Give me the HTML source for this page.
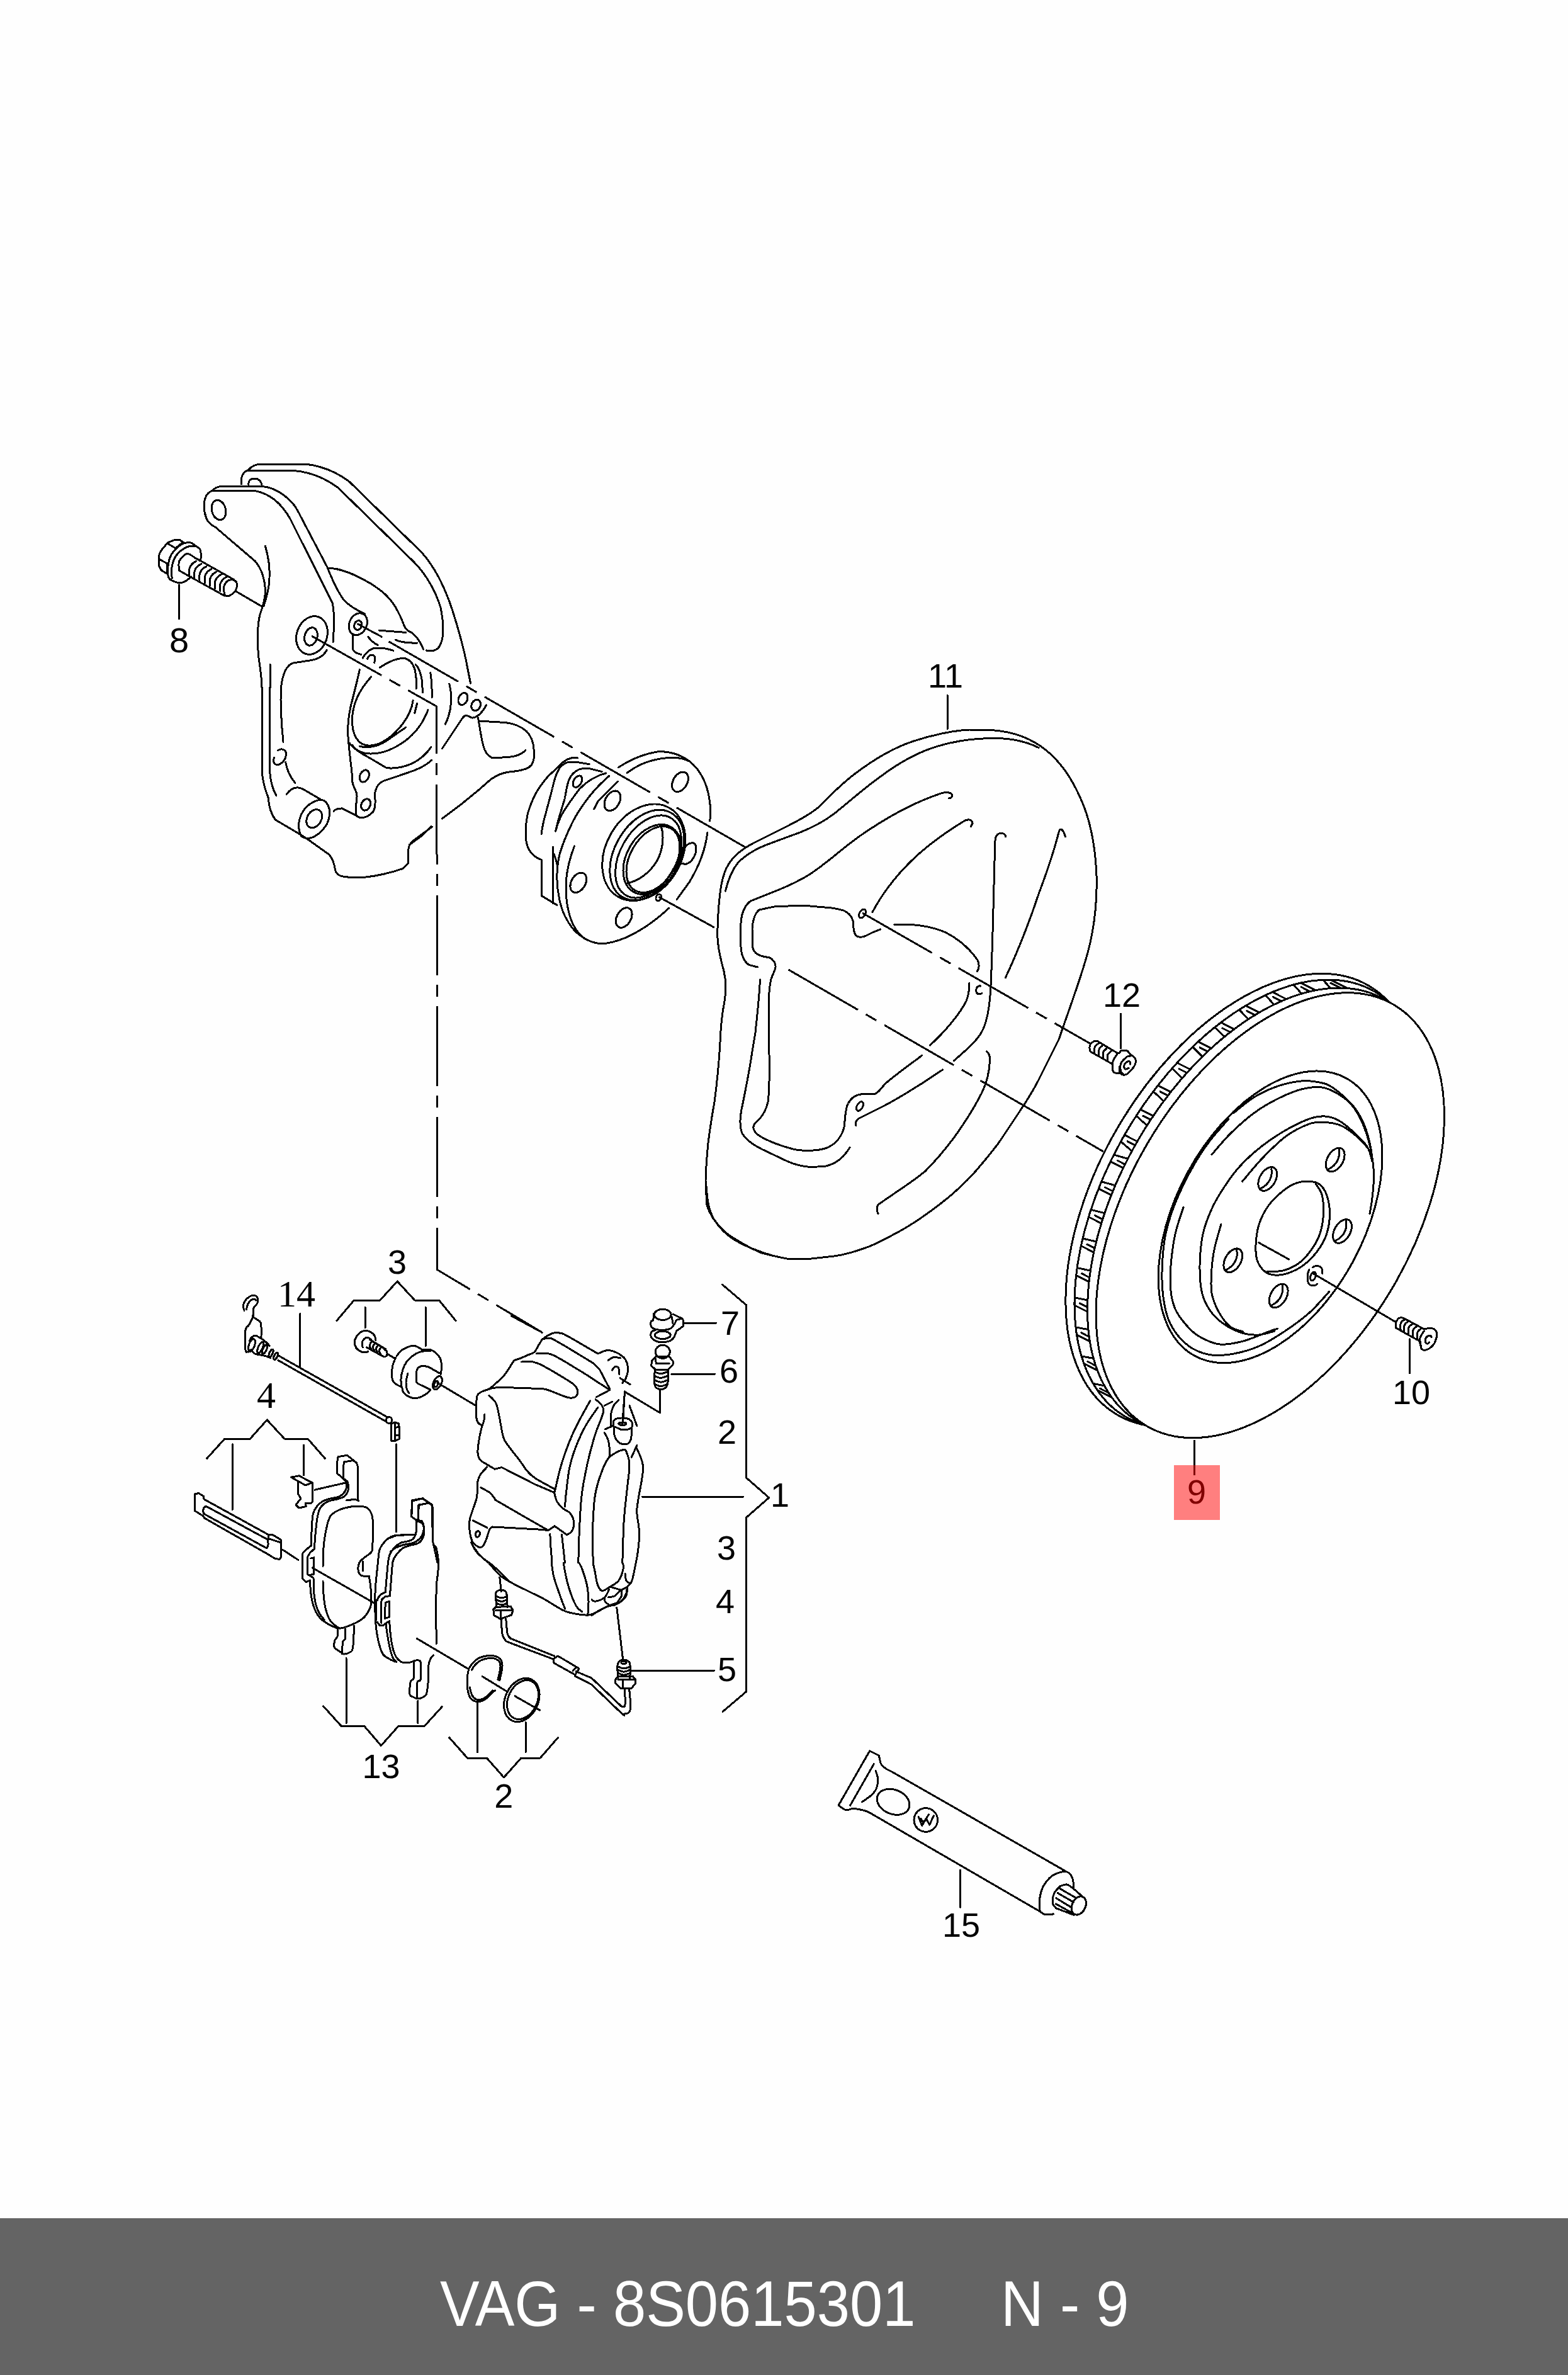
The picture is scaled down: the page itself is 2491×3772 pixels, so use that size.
<!DOCTYPE html>
<html><head><meta charset="utf-8"><style>
html,body{margin:0;padding:0;background:#fefefe;}
body{width:2491px;height:3772px;position:relative;overflow:hidden;font-family:"Liberation Sans",sans-serif;}
#bar{position:absolute;left:0;top:3523px;width:2491px;height:249px;background:#646464;}
.bt{position:absolute;transform:scaleX(0.921);transform-origin:0 0;color:#fff;font-size:102px;line-height:1;white-space:pre;font-family:"Liberation Sans",sans-serif;}
svg{position:absolute;left:0;top:0;}
.ln{fill:none;stroke:#000;stroke-width:3;stroke-linejoin:round;stroke-linecap:round;shape-rendering:crispEdges;}
.lbl{font-family:"Liberation Sans",sans-serif;font-size:52px;fill:#000;}
</style></head><body>
<div id="bar"></div>
<div class="bt" id="t1" style="left:699px;top:3608px;">VAG - 8S0615301</div>
<div class="bt" id="t2" style="left:1590px;top:3608px;">N - 9</div>
<svg width="2491" height="3523" viewBox="0 0 2491 3523">
<path class="ln" style="stroke-linecap:butt;stroke-dasharray:127.5 14.5 19.5 14.5" d="M 495.0,1010.0 L 693.8,1122.0 L 694.6,2016.6 L 861.0,2116.0"/>
<path class="ln" d="M 568.8,991.2 L 606.2,1011.2"/>
<path class="ln" style="stroke-linecap:butt;stroke-dasharray:127.5 14.5 19.5 14.5" d="M 617.5,1018.8 L 1185.0,1346.2"/>
<path class="ln" d="M 1047.5,1425.0 L 1133.8,1472.5"/>
<path class="ln" style="stroke-linecap:butt;stroke-dasharray:127.5 14.5 19.5 14.5" d="M 1252.5,1540.0 L 1753.0,1829.0"/>
<path class="ln" style="stroke-linecap:butt;stroke-dasharray:127.5 14.5 19.5 14.5" d="M 1370.0,1450.0 L 1733.0,1658.0"/>
<path class="ln" d="M 252.2,888.0 C 252.4,886.6 252.4,882.3 253.3,879.8 C 254.1,877.2 255.1,875.6 257.3,872.7 C 259.6,869.7 265.0,863.7 266.5,861.9"/>
<path class="ln" d="M 266.5,861.9 L 273.7,858.9 L 277.8,857.3 L 285.4,857.3 L 289.0,859.9 L 292.0,861.9"/>
<path class="ln" d="M 252.2,888.0 C 252.2,889.5 251.9,894.8 252.2,897.1 C 252.6,899.5 253.4,900.7 254.3,902.2 C 255.1,903.8 255.6,905.0 257.3,906.3 C 259.0,907.7 262.9,909.6 264.5,910.4 C 266.1,911.3 266.4,911.3 266.7,911.4"/>
<path class="ln" d="M 254.3,888.8 L 265.7,895.1 L 265.0,907.9"/>
<path class="ln" d="M 267.0,863.7 L 278.8,870.6 L 289.0,862.7"/>
<path class="ln" d="M 266.7,911.4 C 266.7,909.7 266.4,904.8 266.7,901.2 C 267.0,897.7 267.7,893.4 268.6,890.0 C 269.5,886.6 270.7,883.5 272.1,880.8 C 273.6,878.2 275.3,876.4 277.2,874.2 C 279.2,872.0 281.4,869.5 283.9,867.6 C 286.3,865.6 290.7,863.5 292.0,862.7"/>
<path class="ln" d="M 266.7,911.4 C 266.9,912.3 266.9,915.0 267.6,916.5 C 268.2,918.1 269.3,919.5 270.6,920.6 C 272.0,921.7 274.0,922.4 275.7,923.2 C 277.4,923.9 279.1,924.5 280.8,924.9 C 282.5,925.3 284.2,925.7 285.9,925.7 C 287.6,925.7 289.3,925.3 291.0,924.7 C 292.7,924.1 294.4,923.2 296.1,922.1 C 297.8,921.0 300.0,919.1 301.2,918.1 C 302.4,917.0 303.1,916.1 303.5,915.7"/>
<path class="ln" d="M 292.0,862.7 C 293.7,862.5 299.2,861.0 302.2,861.6 C 305.3,862.3 307.9,865.0 310.4,866.7 C 313.0,868.5 316.1,870.1 317.6,872.1 C 319.0,874.1 318.8,876.3 319.1,878.8 C 319.3,881.2 319.5,885.1 319.1,886.9 C 318.7,888.8 317.1,889.5 316.7,890.0"/>
<path class="ln" d="M 273.2,918.6 C 273.1,916.4 272.5,909.2 272.7,905.3 C 272.8,901.4 273.2,898.5 274.2,895.1 C 275.1,891.7 276.6,887.8 278.3,884.9 C 279.9,882.0 281.9,879.8 283.9,877.8 C 285.8,875.7 287.8,874.1 290.0,872.7 C 292.2,871.2 294.9,869.7 297.1,868.8 C 299.4,867.9 301.1,867.4 303.3,867.1 C 305.5,866.9 309.2,867.1 310.4,867.1"/>
<path class="ln" d="M 284.9,906.3 C 284.7,904.8 283.9,899.7 283.9,897.1 C 283.9,894.6 284.0,893.0 284.9,891.0 C 285.7,889.1 287.4,887.1 289.0,885.4 C 290.5,883.7 292.3,881.5 294.1,880.6 C 295.9,879.7 297.8,879.4 299.7,879.8 C 301.6,880.2 303.4,881.6 305.3,882.9 C 307.3,884.1 310.4,886.4 311.4,887.1"/>
<path class="ln" d="M 284.9,906.3 L 301.2,915.5"/>
<path class="ln" d="M 311.4,887.1 L 318.6,890.7 L 371.6,920.6"/>
<path class="ln" d="M 301.2,915.5 L 356.3,946.1"/>
<path class="ln" d="M 357.3,945.6 C 357.0,943.8 355.3,937.9 355.3,934.9 C 355.3,931.9 356.2,929.9 357.3,927.8 C 358.5,925.6 360.2,923.2 362.4,922.1 C 364.7,921.0 368.4,920.6 370.6,921.1 C 372.9,921.6 375.0,923.3 375.9,925.2 C 376.9,927.1 376.7,930.1 376.3,932.3 C 376.0,934.6 375.0,936.6 373.7,938.5 C 372.4,940.3 370.3,942.2 368.6,943.6 C 366.9,944.9 365.1,946.1 363.5,946.6 C 361.9,947.1 359.6,946.6 358.9,946.6"/>
<path class="ln" d="M 373.7,938.5 L 415.0,962.6"/>
<path class="ln" d="M 284.4,928.8 L 284.4,982.4"/>
<path class="ln" d="M 311.4,891.5 C 310.4,892.2 307.0,893.7 305.3,895.6 C 303.6,897.5 301.8,899.7 301.0,902.8 C 300.3,905.8 300.8,912.1 300.7,914.0"/>
<path class="ln" d="M 319.6,895.6 C 318.6,896.3 315.2,897.8 313.5,899.7 C 311.7,901.6 309.9,903.8 309.2,906.8 C 308.4,909.9 308.9,916.2 308.9,918.1"/>
<path class="ln" d="M 327.8,899.7 C 326.7,900.4 323.4,901.9 321.6,903.8 C 319.9,905.6 318.1,907.9 317.3,910.9 C 316.6,914.0 317.1,920.3 317.0,922.1"/>
<path class="ln" d="M 335.9,903.8 C 334.9,904.5 331.5,906.0 329.8,907.9 C 328.1,909.7 326.3,911.9 325.5,915.0 C 324.7,918.1 325.3,924.4 325.2,926.2"/>
<path class="ln" d="M 344.1,907.9 C 343.1,908.5 339.7,910.1 338.0,911.9 C 336.2,913.8 334.4,916.0 333.7,919.1 C 332.9,922.1 333.4,928.4 333.4,930.3"/>
<path class="ln" d="M 352.2,911.9 C 351.2,912.6 347.9,914.1 346.1,916.0 C 344.4,917.9 342.6,920.1 341.8,923.2 C 341.1,926.2 341.6,932.5 341.5,934.4"/>
<path class="ln" d="M 360.4,916.0 C 359.4,916.7 356.0,918.2 354.3,920.1 C 352.6,922.0 350.8,924.2 350.0,927.2 C 349.2,930.3 349.7,936.6 349.7,938.5"/>
<path class="ln" d="M 383.5,769.0 C 382.0,756.0 386.0,750.0 395.0,746.0 C 400.0,740.0 406.0,737.5 414.0,737.0 L 485.0,737.0 C 512.5,740.0 535.0,750.0 555.0,765.0 L 670.0,877.5 C 692.5,902.5 707.5,935.0 719.0,970.0 C 730.0,1005.0 739.0,1040.0 742.5,1060.0 L 747.5,1085.0"/>
<path class="ln" d="M 392.5,747.5 L 467.5,747.5 C 495.0,750.0 517.5,760.0 537.5,775.0 L 657.5,892.5 C 677.5,912.5 692.5,940.0 700.0,965.0 C 705.0,990.0 706.0,1015.0 697.5,1027.5 C 692.5,1034.0 684.0,1035.0 677.5,1033.0"/>
<path class="ln" d="M 395.0,770.0 C 394.0,762.5 399.0,760.0 405.0,760.0 C 410.0,760.0 415.0,764.0 416.0,770.0"/>
<path class="ln" d="M 327.5,822.5 C 322.5,807.5 323.0,792.5 330.0,784.0 C 332.5,781.5 334.0,780.5 336.0,780.0 C 340.0,776.0 345.0,773.0 351.0,772.5 L 417.5,772.5 C 437.5,775.0 455.0,787.5 467.5,802.5 C 471.0,807.5 474.0,813.0 477.0,819.0 L 520.0,901.0 C 527.5,920.0 536.0,939.0 546.0,952.5 C 555.0,962.5 565.0,968.5 580.0,975.0"/>
<path class="ln" d="M 336.0,780.0 L 405.0,779.5 C 429.0,784.0 447.5,800.0 461.0,824.0 L 528.0,957.5 C 531.0,970.0 531.0,995.0 529.0,1020.0"/>
<ellipse class="ln" cx="347.5" cy="810.0" rx="11.0" ry="16.0" transform="rotate(-15 347.5 810.0)"/>
<path class="ln" d="M 327.5,822.5 C 330.0,829.0 336.0,834.0 342.5,837.5 L 405.0,891.0 C 415.0,902.5 421.0,920.0 421.5,940.0 C 421.0,955.0 416.0,967.5 412.5,977.5 C 409.0,995.0 408.5,1020.0 411.0,1045.0 C 414.0,1065.0 416.0,1080.0 416.0,1092.0"/>
<path class="ln" d="M 421.5,867.5 C 426.0,882.5 429.0,900.0 428.0,920.0 C 427.0,937.5 422.5,952.5 419.0,962.5"/>
<path class="ln" d="M 429.0,1055.0 C 430.0,1070.0 430.0,1080.0 429.5,1092.0"/>
<ellipse class="ln" cx="495.5" cy="1009.0" rx="24.0" ry="31.0" transform="rotate(20 495.5 1009.0)"/>
<ellipse class="ln" cx="494.0" cy="1011.0" rx="10.0" ry="14.5" transform="rotate(15 494.0 1011.0)"/>
<path class="ln" d="M 519.0,1032.5 C 512.5,1045.0 500.0,1048.5 485.0,1050.0 L 466.0,1053.0 C 455.0,1056.0 449.0,1070.0 446.5,1092.0"/>
<path class="ln" d="M 522.5,902.5 C 540.0,902.5 560.0,910.0 590.0,927.5 C 605.0,937.5 614.0,945.0 617.5,950.0"/>
<path class="ln" d="M 617.5,950.0 C 627.5,960.0 637.5,980.0 642.5,995.0 C 645.0,1000.0 648.8,1002.5 652.5,1003.8 C 660.0,1008.8 667.5,1017.5 672.5,1031.2"/>
<path class="ln" d="M 602.5,1001.2 L 645.0,1004.5"/>
<path class="ln" d="M 585.0,1011.2 C 588.8,1017.5 593.8,1021.2 600.0,1024.5"/>
<path class="ln" d="M 628.8,1016.2 C 635.0,1019.5 645.0,1021.2 662.5,1021.2"/>
<path class="ln" d="M 576.2,1045.0 C 580.0,1038.8 585.5,1032.5 592.5,1030.0 C 600.0,1028.0 612.5,1029.5 625.0,1033.2"/>
<path class="ln" d="M 583.8,1046.2 C 585.0,1041.2 588.8,1039.5 592.5,1040.5 C 596.2,1042.0 597.0,1047.5 594.5,1052.5"/>
<path class="ln" d="M 603.8,1060.0 C 615.0,1052.5 630.0,1045.0 642.5,1045.5 C 650.0,1047.0 655.5,1052.5 658.8,1062.5 C 661.2,1072.5 662.0,1082.5 661.2,1093.8"/>
<path class="ln" d="M 660.0,1055.0 C 665.0,1060.0 668.8,1070.0 670.8,1082.5 L 671.2,1100.0"/>
<path class="ln" d="M 589.5,1075.0 C 573.8,1092.5 560.0,1115.0 559.5,1142.5 C 559.0,1167.5 568.8,1183.8 586.2,1184.2 C 605.0,1184.5 625.0,1168.8 639.5,1150.0 C 648.8,1137.5 654.5,1125.0 656.2,1112.5"/>
<path class="ln" d="M 571.2,1185.0 C 585.0,1189.5 603.8,1185.0 618.8,1173.2 L 645.0,1155.0"/>
<path class="ln" d="M 662.5,1117.5 L 658.8,1132.5"/>
<path class="ln" d="M 680.0,1127.5 C 672.5,1147.5 660.0,1165.0 642.5,1177.5 C 625.0,1190.0 605.0,1197.5 587.5,1197.0 C 575.0,1196.5 565.0,1191.2 560.0,1183.8"/>
<path class="ln" d="M 571.2,1063.8 C 567.5,1082.5 561.2,1105.0 557.0,1122.5 C 553.8,1137.5 552.0,1155.0 553.0,1170.0 C 554.0,1185.0 557.0,1210.0 558.8,1225.0 L 560.0,1242.5 C 561.2,1250.0 565.5,1255.0 566.8,1261.2 C 568.0,1268.8 565.0,1277.5 565.0,1285.0 L 565.0,1292.0 C 566.2,1296.2 568.8,1298.2 572.5,1298.8 C 580.0,1299.0 587.5,1295.0 592.5,1289.5 C 595.5,1285.0 596.5,1275.0 595.8,1267.0 C 595.0,1262.5 595.5,1256.2 598.8,1250.0 C 601.2,1245.0 605.0,1242.0 610.0,1240.0 L 632.5,1232.5 L 657.5,1223.8 C 667.5,1220.0 677.5,1215.0 685.5,1207.5"/>
<path class="ln" d="M 555.0,1180.0 C 562.5,1190.0 575.0,1197.5 585.0,1202.5 L 613.8,1219.5 C 625.0,1221.2 640.0,1218.8 655.0,1212.5 C 667.5,1206.2 677.5,1197.5 685.0,1186.2"/>
<path class="ln" d="M 683.8,1068.8 C 685.5,1077.5 686.2,1090.0 686.2,1107.5"/>
<path class="ln" d="M 713.8,1086.2 C 717.5,1100.0 717.5,1115.0 715.0,1127.5 C 713.0,1137.5 710.0,1145.0 707.5,1150.0"/>
<ellipse class="ln" cx="578.8" cy="1232.5" rx="7.0" ry="10.0" transform="rotate(25 578.8 1232.5)"/>
<ellipse class="ln" cx="581.2" cy="1278.0" rx="7.0" ry="9.5" transform="rotate(25 581.2 1278.0)"/>
<path class="ln" d="M 530.0,1288.2 C 533.8,1284.5 538.8,1283.8 543.8,1284.0 L 570.0,1297.5"/>
<ellipse class="ln" cx="735.5" cy="1110.0" rx="7.0" ry="10.0" transform="rotate(25 735.5 1110.0)"/>
<ellipse class="ln" cx="756.2" cy="1120.0" rx="7.0" ry="9.0" transform="rotate(25 756.2 1120.0)"/>
<path class="ln" d="M 702.5,1188.8 L 735.0,1140.0 C 737.0,1137.5 739.5,1136.2 741.2,1136.2 L 750.0,1140.0 C 753.8,1140.5 757.5,1138.0 761.2,1135.0 C 766.2,1130.5 770.0,1125.0 772.5,1120.0"/>
<path class="ln" d="M 759.5,1140.0 C 762.5,1157.5 765.0,1175.0 768.0,1185.0 C 770.0,1193.8 775.0,1200.0 782.0,1203.8 L 807.5,1202.5 C 820.0,1201.2 830.0,1197.5 835.0,1191.2"/>
<path class="ln" d="M 760.5,1145.0 L 802.5,1147.5 C 815.0,1148.8 827.5,1153.8 836.2,1161.2 C 843.8,1168.8 847.5,1180.0 848.0,1190.0 L 848.0,1205.0 C 847.0,1212.5 842.5,1218.8 835.0,1221.2 C 827.5,1223.8 820.0,1225.0 807.5,1226.2 C 797.5,1227.5 787.5,1232.5 780.0,1237.5 L 760.0,1255.0 L 732.5,1277.5 L 702.5,1300.0"/>
<path class="ln" d="M 650.0,1342.0 L 670.0,1327.5 L 685.0,1312.5"/>
<ellipse class="ln" cx="568.8" cy="991.2" rx="13.8" ry="18.0" transform="rotate(25 568.8 991.2)"/>
<ellipse class="ln" cx="568.8" cy="993.0" rx="6.0" ry="7.5" transform="rotate(20 568.8 993.0)"/>
<path class="ln" d="M 560.0,1008.8 L 560.0,1030.0 C 561.2,1035.0 565.0,1037.5 573.8,1039.5"/>
<path class="ln" d="M 416.2,1092.0 L 416.2,1227.0 C 417.5,1242.0 421.2,1254.5 426.2,1267.0 C 427.5,1279.5 428.8,1289.5 437.5,1302.0 L 480.0,1327.0 L 487.5,1332.0 L 522.5,1357.0 C 527.5,1362.0 531.2,1372.0 532.5,1382.0 C 533.8,1387.0 537.5,1390.8 545.0,1392.0 L 560.0,1394.0 L 580.0,1393.2 C 595.0,1391.5 615.0,1388.2 640.0,1379.5 L 648.8,1370.8 L 648.8,1349.5 C 648.8,1344.5 651.2,1339.5 657.5,1334.5 L 686.2,1313.2"/>
<path class="ln" d="M 428.8,1092.0 L 428.8,1227.0 C 430.0,1242.0 433.8,1254.5 438.8,1263.2"/>
<path class="ln" d="M 446.2,1092.0 C 445.5,1117.0 446.2,1142.0 450.0,1178.2"/>
<path class="ln" d="M 441.2,1192.0 C 446.2,1188.2 455.0,1189.5 454.5,1198.2 C 454.0,1207.0 446.2,1215.0 440.0,1214.5 C 433.8,1214.0 433.8,1207.0 435.5,1203.2"/>
<path class="ln" d="M 453.8,1210.8 C 456.2,1224.5 461.2,1234.5 468.8,1243.2"/>
<path class="ln" d="M 455.0,1262.0 C 460.0,1254.5 466.2,1250.8 472.5,1250.8 C 476.2,1250.8 478.8,1252.0 481.2,1253.2 L 510.0,1270.0"/>
<path class="ln" d="M 478.8,1328.2 C 473.0,1317.0 473.8,1304.5 478.8,1293.2 C 485.0,1280.8 496.2,1271.5 510.0,1270.2 C 517.0,1270.8 521.2,1277.0 523.0,1284.5 C 525.0,1294.5 522.0,1307.0 515.0,1315.0 C 507.5,1324.0 499.5,1330.8 490.0,1331.5 C 485.0,1331.5 481.2,1330.0 478.8,1328.2"/>
<ellipse class="ln" cx="499.2" cy="1300.2" rx="11.2" ry="15.5" transform="rotate(30 499.2 1300.2)"/>
<path class="ln" d="M 982.5,1218.8 C 1000.0,1207.5 1020.0,1197.5 1045.0,1193.8 C 1060.0,1192.5 1080.0,1197.5 1095.0,1208.8 C 1112.5,1222.5 1123.8,1245.0 1127.5,1272.5 C 1129.5,1287.5 1129.0,1297.5 1127.5,1303.8"/>
<path class="ln" d="M 996.2,1227.5 C 1007.5,1218.8 1020.0,1212.5 1032.5,1208.8 C 1050.0,1203.8 1067.5,1202.0 1082.5,1204.5 L 1095.0,1208.8"/>
<path class="ln" d="M 1123.8,1322.5 C 1121.2,1345.0 1112.5,1372.5 1095.0,1401.2 L 1075.0,1428.8"/>
<path class="ln" d="M 1062.5,1442.5 C 1045.0,1458.8 1020.0,1477.5 995.0,1488.8 C 980.0,1495.0 967.5,1498.8 955.0,1498.8 C 942.5,1498.0 932.5,1493.8 922.5,1486.2"/>
<path class="ln" d="M 967.5,1232.5 C 957.5,1241.2 945.0,1253.8 936.2,1265.0 C 927.5,1276.2 917.5,1290.0 910.0,1305.0 C 902.5,1320.0 893.8,1340.0 888.8,1357.5 C 885.5,1372.5 884.5,1385.0 885.0,1397.5 C 885.5,1417.5 890.0,1440.0 897.5,1455.0 C 905.0,1470.0 912.5,1480.0 922.5,1486.2"/>
<path class="ln" d="M 912.5,1343.8 C 906.2,1360.0 901.2,1377.5 899.5,1397.5 C 898.0,1422.5 901.2,1447.5 910.0,1467.5 C 915.0,1477.5 920.0,1483.8 927.5,1490.0"/>
<path class="ln" d="M 917.5,1203.8 C 912.5,1202.5 906.2,1203.8 900.0,1206.8 C 895.0,1209.5 891.2,1213.0 888.8,1216.2 L 872.5,1231.2 C 866.2,1237.5 855.0,1252.5 850.0,1262.5 C 845.0,1272.5 840.0,1285.0 837.5,1296.2 C 835.5,1307.5 834.5,1320.0 835.5,1331.2 C 836.0,1340.0 838.8,1347.5 842.5,1352.5 C 846.2,1357.5 852.5,1362.5 858.8,1365.0"/>
<path class="ln" d="M 860.0,1365.0 L 860.0,1422.5 L 885.0,1437.5"/>
<path class="ln" d="M 860.0,1325.0 C 861.2,1315.0 863.8,1302.5 867.5,1290.0 L 877.5,1252.5 C 880.0,1240.0 882.5,1230.0 888.8,1220.0 C 892.5,1215.0 897.5,1211.2 905.0,1210.0 L 917.5,1210.5 L 936.2,1213.8"/>
<path class="ln" d="M 882.5,1320.0 C 885.0,1308.8 888.8,1296.2 892.5,1283.8 L 897.5,1267.5 C 899.5,1255.0 901.2,1245.0 903.8,1238.8 C 906.2,1232.5 911.2,1226.2 918.8,1222.5 C 922.5,1220.8 927.5,1220.0 936.2,1220.5 L 956.2,1225.5"/>
<path class="ln" d="M 882.5,1320.0 C 886.2,1307.5 891.2,1295.0 896.2,1287.5 C 902.5,1277.5 912.5,1263.8 920.0,1253.8 C 927.5,1246.2 935.0,1240.0 942.5,1236.2 C 948.8,1232.5 956.2,1229.5 962.5,1228.0"/>
<ellipse class="ln" cx="917.5" cy="1241.2" rx="6.2" ry="10.0" transform="rotate(30 917.5 1241.2)"/>
<ellipse class="ln" cx="973.0" cy="1271.8" rx="11.2" ry="17.0" transform="rotate(30 973.0 1271.8)"/>
<path class="ln" d="M 981.2,1241.2 L 965.0,1257.5 L 950.0,1272.5 L 943.8,1285.0"/>
<path class="ln" d="M 878.8,1345.0 L 878.8,1435.0"/>
<path class="ln" d="M 880.0,1356.2 C 882.5,1362.5 884.5,1370.0 885.5,1375.0"/>
<ellipse class="ln" cx="1080.5" cy="1241.8" rx="11.2" ry="17.0" transform="rotate(30 1080.5 1241.8)"/>
<path class="ln" d="M 1085.0,1352.5 C 1088.8,1342.5 1095.0,1338.0 1101.2,1338.8 C 1106.2,1340.0 1107.0,1347.5 1105.0,1355.0 C 1102.5,1363.8 1096.2,1371.2 1088.8,1372.5 L 1082.5,1371.2"/>
<ellipse class="ln" cx="918.8" cy="1401.8" rx="11.2" ry="17.0" transform="rotate(30 918.8 1401.8)"/>
<ellipse class="ln" cx="991.2" cy="1457.5" rx="11.2" ry="17.0" transform="rotate(30 991.2 1457.5)"/>
<ellipse class="ln" cx="1022.8" cy="1353.8" rx="60.0" ry="81.5" transform="rotate(30 1022.8 1353.8)"/>
<ellipse class="ln" cx="1027.8" cy="1358.0" rx="51.5" ry="77.2" transform="rotate(30 1027.8 1358.0)"/>
<ellipse class="ln" cx="1030.0" cy="1360.5" rx="44.5" ry="71.0" transform="rotate(30 1030.0 1360.5)"/>
<ellipse class="ln" cx="1036.2" cy="1365.0" rx="40.8" ry="59.5" transform="rotate(30 1036.2 1365.0)"/>
<ellipse class="ln" cx="1037.5" cy="1365.0" rx="36.5" ry="56.8" transform="rotate(30 1037.5 1365.0)"/>
<path class="ln" d="M 1050.0,1312.5 C 1055.0,1325.0 1053.8,1345.0 1046.2,1362.5 C 1037.5,1380.0 1020.0,1397.5 997.5,1402.5"/>
<ellipse class="ln" cx="1046.2" cy="1425.5" rx="4.0" ry="5.5" transform="rotate(20 1046.2 1425.5)"/>
<path class="ln" d="M 1505.0,1104.0 L 1505.0,1157.5"/>
<path class="ln" d="M 1540.0,1159.0 L 1580.0,1160.0 C 1610.0,1162.5 1637.5,1172.5 1660.0,1190.0 C 1682.5,1207.5 1702.5,1235.0 1717.5,1270.0 C 1731.0,1300.0 1739.0,1340.0 1741.5,1380.0 C 1744.0,1420.0 1740.0,1470.0 1727.5,1515.0 C 1715.0,1560.0 1697.5,1605.0 1682.5,1650.0 C 1670.0,1675.0 1660.0,1695.0 1650.0,1715.0 C 1640.0,1735.0 1630.0,1750.0 1620.0,1765.0 C 1610.0,1780.0 1600.0,1795.0 1590.0,1810.0 C 1580.0,1825.0 1565.0,1842.5 1550.0,1860.0 C 1530.0,1882.5 1510.0,1900.0 1490.0,1915.0 C 1470.0,1930.0 1450.0,1944.0 1430.0,1955.0 C 1410.0,1966.0 1395.0,1974.0 1380.0,1980.0 C 1360.0,1987.5 1345.0,1992.5 1325.0,1995.0 L 1280.0,2000.0 L 1250.0,1999.0 C 1235.0,1996.0 1222.5,1993.5 1210.0,1990.0 C 1197.5,1985.0 1190.0,1981.0 1180.0,1975.0 C 1167.5,1967.5 1157.5,1962.5 1150.0,1955.0 C 1142.5,1947.5 1135.0,1940.0 1130.0,1930.0 C 1125.0,1921.0 1122.5,1915.0 1122.5,1910.0 L 1121.0,1875.0 C 1121.5,1855.0 1123.0,1835.0 1125.0,1815.0 C 1127.5,1795.0 1131.0,1772.5 1135.0,1750.0 C 1139.0,1720.0 1142.5,1685.0 1144.0,1655.0 C 1145.0,1630.0 1148.0,1605.0 1151.0,1590.0 C 1153.5,1575.0 1153.5,1557.5 1150.0,1542.5 C 1146.5,1527.5 1141.5,1515.0 1140.0,1490.0 C 1139.5,1470.0 1141.5,1430.0 1146.0,1405.0 C 1149.0,1390.0 1152.5,1380.0 1157.5,1372.5 C 1165.0,1360.0 1180.0,1347.5 1200.0,1337.5 L 1250.0,1312.5 C 1270.0,1302.5 1287.5,1292.5 1300.0,1282.5 C 1315.0,1267.5 1335.0,1246.0 1360.0,1227.5 C 1390.0,1205.0 1420.0,1187.5 1450.0,1177.5 C 1480.0,1167.5 1515.0,1160.0 1540.0,1159.0"/>
<path class="ln" d="M 1650.0,1187.5 C 1630.0,1177.5 1605.0,1172.5 1580.0,1172.5 C 1550.0,1172.5 1520.0,1176.0 1490.0,1185.0 C 1460.0,1194.0 1430.0,1210.0 1400.0,1232.5 C 1375.0,1250.0 1350.0,1272.5 1325.0,1292.5 C 1305.0,1307.5 1285.0,1317.5 1260.0,1326.0 L 1225.0,1339.0 C 1205.0,1346.0 1185.0,1357.5 1172.5,1370.0 C 1162.5,1382.5 1156.0,1400.0 1152.5,1415.0"/>
<path class="ln" d="M 1122.5,1885.0 C 1123.0,1905.0 1126.0,1922.5 1134.0,1936.0 C 1142.5,1950.0 1155.0,1962.5 1170.0,1971.0 C 1187.5,1981.0 1207.5,1988.5 1230.0,1995.0"/>
<path class="ln" d="M 1507.5,1268.0 C 1511.0,1267.5 1513.5,1265.0 1512.5,1262.5 C 1511.0,1259.0 1505.0,1257.0 1495.0,1260.0 C 1450.0,1275.0 1410.0,1297.5 1370.0,1325.0 C 1340.0,1345.0 1310.0,1375.0 1280.0,1392.5 C 1260.0,1404.0 1240.0,1412.5 1217.5,1421.0 L 1192.5,1431.0 C 1185.0,1436.0 1179.0,1447.5 1177.5,1460.0 C 1176.0,1475.0 1176.0,1495.0 1177.5,1510.0 C 1179.0,1520.0 1184.0,1529.0 1190.0,1532.5 L 1203.5,1536.0"/>
<path class="ln" d="M 1398.5,1476.0 C 1390.0,1479.0 1382.5,1482.5 1375.0,1486.5 C 1369.0,1489.0 1362.5,1489.0 1359.0,1485.0 C 1355.0,1477.5 1356.0,1470.0 1355.0,1462.5 C 1352.5,1454.0 1347.5,1449.0 1340.0,1446.0 C 1330.0,1443.0 1320.0,1441.5 1310.0,1441.0 L 1275.0,1438.0 L 1230.0,1440.0 L 1206.0,1445.0 C 1200.0,1450.0 1196.0,1460.0 1195.0,1475.0 L 1195.5,1502.5 C 1196.5,1512.5 1202.5,1516.5 1212.5,1519.0 L 1222.5,1521.0 C 1229.0,1524.0 1232.5,1530.0 1232.0,1536.0 C 1231.0,1542.5 1227.5,1547.5 1225.0,1555.0 C 1222.5,1565.0 1221.5,1575.0 1221.5,1590.0 L 1221.5,1650.0 C 1222.5,1690.0 1223.0,1730.0 1220.0,1750.0 C 1217.5,1762.5 1210.0,1775.0 1200.0,1783.5 C 1195.0,1788.5 1196.0,1795.0 1202.5,1801.0 C 1212.5,1809.0 1235.0,1818.5 1260.0,1825.0 C 1275.0,1828.5 1300.0,1828.5 1315.0,1822.5 C 1327.5,1816.5 1337.5,1805.0 1341.0,1790.0 C 1343.0,1775.0 1342.5,1760.0 1347.5,1752.5 C 1352.5,1742.5 1360.0,1738.5 1370.0,1737.5 L 1389.0,1738.0 C 1395.0,1736.0 1400.0,1729.0 1405.0,1722.5 C 1415.0,1712.5 1440.0,1695.0 1465.0,1676.0"/>
<path class="ln" d="M 1477.5,1660.0 C 1500.0,1640.0 1525.0,1610.0 1535.0,1590.0 C 1539.0,1580.0 1540.0,1570.0 1540.0,1561.0"/>
<path class="ln" d="M 1207.5,1556.0 C 1206.0,1587.5 1202.5,1615.0 1200.0,1640.0 L 1195.0,1670.0 C 1190.0,1705.0 1182.5,1740.0 1177.5,1765.0 C 1175.0,1780.0 1175.0,1790.0 1179.0,1800.0 C 1185.0,1810.0 1195.0,1817.5 1210.0,1825.0 L 1250.0,1844.0 C 1260.0,1848.5 1272.5,1852.5 1287.5,1853.5 L 1310.0,1852.5 C 1322.5,1850.0 1332.5,1844.0 1340.0,1836.0 C 1345.0,1830.0 1348.0,1826.0 1350.0,1822.5"/>
<path class="ln" d="M 1386.0,1448.5 C 1400.0,1422.5 1420.0,1395.0 1445.0,1370.0 C 1470.0,1345.0 1500.0,1323.5 1530.0,1305.0 C 1537.5,1300.0 1544.0,1301.0 1545.0,1307.5 L 1542.5,1312.5"/>
<path class="ln" d="M 1597.5,1328.5 C 1597.5,1326.5 1596.0,1324.5 1592.5,1323.5 C 1586.0,1322.5 1581.5,1326.0 1581.0,1335.0 C 1579.0,1390.0 1577.5,1490.0 1574.0,1565.0 C 1572.5,1600.0 1567.5,1627.5 1557.5,1642.5 C 1547.5,1657.5 1531.0,1671.0 1515.0,1685.0"/>
<path class="ln" d="M 1497.5,1699.0 C 1480.0,1711.0 1460.0,1724.0 1440.0,1736.0 C 1425.0,1745.0 1410.0,1754.0 1395.0,1761.0 L 1365.0,1776.0 C 1360.0,1779.0 1358.0,1784.0 1360.0,1788.0"/>
<path class="ln" d="M 1597.5,1552.5 C 1615.0,1515.0 1635.0,1465.0 1650.0,1420.0 C 1665.0,1380.0 1677.5,1340.0 1682.5,1320.0 C 1684.0,1315.0 1689.0,1316.0 1692.5,1329.0"/>
<path class="ln" d="M 1421.0,1468.5 C 1450.0,1466.5 1480.0,1471.0 1502.5,1481.0 C 1525.0,1492.5 1542.5,1510.0 1552.5,1524.0 C 1556.0,1530.0 1556.0,1537.5 1552.5,1542.5"/>
<ellipse class="ln" cx="1370.0" cy="1451.0" rx="4.5" ry="7.5" transform="rotate(30 1370.0 1451.0)"/>
<path class="ln" d="M 1557.5,1566.0 C 1552.5,1565.0 1550.0,1570.0 1551.0,1575.0 C 1552.0,1579.0 1556.0,1580.0 1560.0,1577.5"/>
<ellipse class="ln" cx="1366.0" cy="1757.0" rx="4.5" ry="8.0" transform="rotate(30 1366.0 1757.0)"/>
<path class="ln" d="M 1567.5,1670.0 C 1571.0,1672.5 1573.0,1677.5 1572.5,1685.0 C 1571.5,1705.0 1567.5,1720.0 1560.0,1735.0 C 1550.0,1755.0 1535.0,1780.0 1515.0,1807.5 C 1500.0,1827.5 1485.0,1845.0 1470.0,1860.0 C 1455.0,1872.5 1440.0,1882.5 1420.0,1896.0 L 1396.0,1912.5 C 1392.5,1916.0 1392.5,1922.5 1395.0,1927.5"/>
<ellipse class="ln" cx="1974.6" cy="1906.2" rx="230.0" ry="395.0" transform="rotate(30.44 1974.6 1906.2)"/>
<ellipse class="ln" cx="1986.1" cy="1912.6" rx="391.3" ry="227.9" transform="rotate(-59.559999999999995 1986.1 1912.6)"/>
<ellipse class="ln" cx="2004.3" cy="1922.7" rx="388.1" ry="226.0" transform="rotate(-59.559999999999995 2004.3 1922.7)"/>
<path class="ln" d="M 2114.0,1569.5 L 2101.6,1556.2 Q 2107.7,1556.0 2113.8,1556.1 L 2140.5,1569.6"/>
<path class="ln" d="M 2114.0,1561.2 L 2129.6,1569.1"/>
<path class="ln" d="M 2067.8,1578.2 L 2054.9,1563.9 Q 2060.9,1562.4 2066.7,1561.0 L 2090.1,1572.8"/>
<path class="ln" d="M 2067.3,1567.7 L 2081.1,1574.7"/>
<path class="ln" d="M 2024.0,1595.5 L 2010.4,1580.6 Q 2015.9,1578.0 2021.5,1575.6 L 2043.5,1586.8"/>
<path class="ln" d="M 2022.6,1583.4 L 2035.9,1590.2"/>
<path class="ln" d="M 1983.1,1618.8 L 1968.8,1603.6 Q 1974.0,1600.3 1979.1,1597.2 L 2000.7,1608.1"/>
<path class="ln" d="M 1980.8,1605.7 L 1993.7,1612.2"/>
<path class="ln" d="M 1945.1,1646.8 L 1930.2,1631.3 Q 1935.0,1627.6 1939.7,1623.9 L 1960.9,1634.6"/>
<path class="ln" d="M 1941.9,1632.9 L 1954.6,1639.3"/>
<path class="ln" d="M 1910.1,1678.2 L 1894.6,1662.7 Q 1899.0,1658.6 1903.4,1654.5 L 1924.3,1665.0"/>
<path class="ln" d="M 1906.1,1663.8 L 1918.6,1670.1"/>
<path class="ln" d="M 1878.0,1712.4 L 1862.0,1696.9 Q 1866.0,1692.4 1870.0,1688.0 L 1890.7,1698.4"/>
<path class="ln" d="M 1873.2,1697.6 L 1885.7,1703.9"/>
<path class="ln" d="M 1848.7,1748.9 L 1832.2,1733.5 Q 1835.8,1728.7 1839.5,1723.9 L 1860.0,1734.3"/>
<path class="ln" d="M 1843.2,1733.8 L 1855.5,1740.0"/>
<path class="ln" d="M 1822.1,1787.4 L 1805.1,1772.2 Q 1808.4,1767.2 1811.7,1762.2 L 1832.2,1772.5"/>
<path class="ln" d="M 1815.9,1772.2 L 1828.1,1778.4"/>
<path class="ln" d="M 1798.2,1828.2 L 1780.6,1813.1 Q 1783.5,1807.9 1786.5,1802.6 L 1806.7,1812.9"/>
<path class="ln" d="M 1791.2,1812.8 L 1803.4,1818.9"/>
<path class="ln" d="M 1791.7,1840.4 L 1769.6,1834.0 Q 1766.9,1839.3 1764.2,1844.7 L 1784.5,1855.0"/>
<path class="ln" d="M 1775.1,1843.1 L 1787.4,1849.3"/>
<path class="ln" d="M 1771.8,1882.7 L 1749.8,1876.7 Q 1747.5,1882.3 1745.3,1887.8 L 1765.5,1898.1"/>
<path class="ln" d="M 1755.8,1885.9 L 1768.0,1892.0"/>
<path class="ln" d="M 1754.9,1926.7 L 1733.1,1921.3 Q 1731.3,1927.0 1729.5,1932.7 L 1749.7,1943.0"/>
<path class="ln" d="M 1739.5,1930.4 L 1751.8,1936.6"/>
<path class="ln" d="M 1741.6,1971.9 L 1720.1,1967.0 Q 1718.7,1972.9 1717.4,1978.7 L 1737.7,1989.0"/>
<path class="ln" d="M 1727.0,1976.1 L 1739.2,1982.3"/>
<path class="ln" d="M 1732.3,2018.1 L 1711.2,2013.6 Q 1710.4,2019.6 1709.7,2025.6 L 1730.1,2036.0"/>
<path class="ln" d="M 1718.6,2022.7 L 1730.9,2028.9"/>
<path class="ln" d="M 1727.8,2064.9 L 1707.2,2060.9 Q 1707.0,2067.0 1707.0,2073.0 L 1727.5,2083.3"/>
<path class="ln" d="M 1715.2,2069.9 L 1727.7,2076.2"/>
<path class="ln" d="M 1728.9,2111.6 L 1709.0,2107.9 Q 1709.7,2114.0 1710.6,2119.9 L 1731.5,2130.5"/>
<path class="ln" d="M 1717.8,2116.8 L 1730.3,2123.1"/>
<path class="ln" d="M 1737.2,2157.4 L 1718.2,2154.0 Q 1720.0,2159.8 1721.9,2165.5 L 1743.3,2176.3"/>
<path class="ln" d="M 1727.9,2162.5 L 1740.8,2169.0"/>
<path class="ln" d="M 1754.4,2200.9 L 1736.6,2197.4 Q 1739.8,2202.6 1743.1,2207.7 L 1766.0,2219.2"/>
<path class="ln" d="M 1747.6,2205.2 L 1761.1,2212.1"/>
<ellipse class="ln" style="fill:#fff" cx="2017.8" cy="1930.2" rx="225.9" ry="387.9" transform="rotate(30.44 2017.8 1930.2)"/>
<ellipse class="ln" cx="2018.1" cy="1932.8" rx="149.2" ry="251.2" transform="rotate(28.6 2018.1 1932.8)"/>
<path class="ln" d="M 1952.0,1777.0 C 1947.0,1782.8 1931.0,1800.2 1922.0,1812.0 C 1913.0,1823.8 1905.5,1835.3 1898.0,1848.0 C 1890.5,1860.7 1883.3,1874.3 1877.0,1888.0 C 1870.7,1901.7 1864.5,1916.3 1860.0,1930.0 C 1855.5,1943.7 1852.3,1955.0 1850.0,1970.0 C 1847.7,1985.0 1846.3,2005.0 1846.0,2020.0 C 1845.7,2035.0 1846.3,2047.5 1848.0,2060.0 C 1849.7,2072.5 1852.0,2084.7 1856.0,2095.0 C 1860.0,2105.3 1865.5,2114.2 1872.0,2122.0 C 1878.5,2129.8 1886.2,2137.0 1895.0,2142.0 C 1903.8,2147.0 1914.2,2150.7 1925.0,2152.0 C 1935.8,2153.3 1947.5,2152.3 1960.0,2150.0 C 1972.5,2147.7 1986.7,2143.8 2000.0,2138.0 C 2013.3,2132.2 2026.7,2123.8 2040.0,2115.0 C 2053.3,2106.2 2068.0,2095.7 2080.0,2085.0 C 2092.0,2074.3 2106.7,2056.7 2112.0,2051.0"/>
<path class="ln" d="M 1960.0,1767.5 C 1965.4,1763.3 1980.8,1749.6 1992.5,1742.5 C 2004.2,1735.4 2017.5,1729.2 2030.0,1725.0 C 2042.5,1720.8 2056.7,1718.0 2067.5,1717.0 C 2078.3,1716.0 2086.7,1717.0 2095.0,1718.8 C 2103.3,1720.5 2108.8,1721.5 2117.5,1727.5 C 2126.2,1733.5 2139.6,1745.4 2147.5,1755.0 C 2155.4,1764.6 2160.0,1773.3 2165.0,1785.0 C 2170.0,1796.7 2174.6,1811.7 2177.5,1825.0 C 2180.4,1838.3 2182.1,1852.1 2182.5,1865.0 C 2182.9,1877.9 2181.1,1892.1 2180.0,1902.5 C 2178.9,1912.9 2176.7,1923.3 2176.0,1927.5"/>
<path class="ln" d="M 1925.0,1833.8 C 1930.0,1828.1 1943.8,1811.0 1955.0,1800.0 C 1966.2,1789.0 1980.0,1776.7 1992.5,1767.5 C 2005.0,1758.3 2017.5,1751.2 2030.0,1745.0 C 2042.5,1738.8 2055.8,1733.0 2067.5,1730.0 C 2079.2,1727.0 2090.4,1725.8 2100.0,1727.0 C 2109.6,1728.2 2116.7,1732.0 2125.0,1737.0 C 2133.3,1742.0 2142.9,1748.7 2150.0,1757.0 C 2157.1,1765.3 2162.9,1776.2 2167.5,1787.0 C 2172.1,1797.8 2175.4,1812.3 2177.5,1822.0 C 2179.6,1831.7 2179.6,1841.2 2180.0,1845.0"/>
<path class="ln" d="M 2025.0,2114.0 C 2020.8,2115.0 2008.3,2119.4 2000.0,2120.0 C 1991.7,2120.6 1983.8,2120.0 1975.0,2117.5 C 1966.2,2115.0 1955.8,2110.4 1947.5,2105.0 C 1939.2,2099.6 1931.2,2093.3 1925.0,2085.0 C 1918.8,2076.7 1913.2,2067.5 1910.0,2055.0 C 1906.8,2042.5 1905.8,2025.8 1906.0,2010.0 C 1906.2,1994.2 1907.8,1975.0 1911.0,1960.0 C 1914.2,1945.0 1919.3,1932.5 1925.0,1920.0 C 1930.7,1907.5 1937.5,1896.3 1945.0,1885.0 C 1952.5,1873.7 1960.0,1862.8 1970.0,1852.0 C 1980.0,1841.2 1992.9,1829.5 2005.0,1820.0 C 2017.1,1810.5 2030.0,1802.2 2042.5,1795.0 C 2055.0,1787.8 2069.6,1780.7 2080.0,1777.0 C 2090.4,1773.3 2097.1,1772.5 2105.0,1773.0 C 2112.9,1773.5 2119.6,1775.5 2127.5,1780.0 C 2135.4,1784.5 2145.0,1793.0 2152.5,1800.0 C 2160.0,1807.0 2167.9,1814.5 2172.5,1822.0 C 2177.1,1829.5 2178.8,1841.2 2180.0,1845.0"/>
<path class="ln" d="M 1973.8,1876.2 C 1979.0,1870.2 1993.5,1851.9 2005.0,1840.0 C 2016.5,1828.1 2030.0,1814.2 2042.5,1805.0 C 2055.0,1795.8 2069.6,1788.8 2080.0,1785.0 C 2090.4,1781.2 2096.7,1782.1 2105.0,1782.5 C 2113.3,1782.9 2122.1,1784.2 2130.0,1787.5 C 2137.9,1790.8 2145.4,1796.7 2152.5,1802.5 C 2159.6,1808.3 2169.2,1819.2 2172.5,1822.5"/>
<path class="ln" d="M 1880.0,1917.5 C 1877.8,1924.6 1870.3,1944.6 1867.0,1960.0 C 1863.7,1975.4 1861.2,1995.0 1860.0,2010.0 C 1858.8,2025.0 1858.8,2038.3 1860.0,2050.0 C 1861.2,2061.7 1863.3,2070.8 1867.5,2080.0 C 1871.7,2089.2 1878.8,2097.9 1885.0,2105.0 C 1891.2,2112.1 1896.2,2117.5 1905.0,2122.5 C 1913.8,2127.5 1925.8,2133.8 1937.5,2135.0 C 1949.2,2136.2 1962.1,2133.3 1975.0,2130.0 C 1987.9,2126.7 2005.8,2118.3 2015.0,2115.0 C 2024.2,2111.7 2027.5,2110.8 2030.0,2110.0"/>
<path class="ln" d="M 1940.0,1944.0 C 1938.0,1951.7 1930.7,1974.0 1928.0,1990.0 C 1925.3,2006.0 1924.0,2027.5 1924.0,2040.0 C 1924.0,2052.5 1925.3,2056.7 1928.0,2065.0 C 1930.7,2073.3 1935.5,2082.9 1940.0,2090.0 C 1944.5,2097.1 1949.2,2103.3 1955.0,2107.5 C 1960.8,2111.7 1971.7,2113.8 1975.0,2115.0"/>
<path class="ln" d="M 2077.5,1876.2 C 2083.3,1876.5 2090.0,1876.5 2095.0,1880.0 C 2100.0,1883.5 2104.6,1889.6 2107.5,1897.5 C 2110.4,1905.4 2112.5,1917.1 2112.5,1927.5 C 2112.5,1937.9 2110.8,1950.0 2107.5,1960.0 C 2104.2,1970.0 2098.8,1979.2 2092.5,1987.5 C 2086.2,1995.8 2077.9,2004.2 2070.0,2010.0 C 2062.1,2015.8 2052.5,2020.0 2045.0,2022.5 C 2037.5,2025.0 2030.8,2025.4 2025.0,2025.0 C 2019.2,2024.6 2014.6,2023.8 2010.0,2020.0 C 2005.4,2016.2 2000.0,2009.6 1997.5,2002.5 C 1995.0,1995.4 1994.6,1987.1 1995.0,1977.5 C 1995.4,1967.9 1996.7,1955.4 2000.0,1945.0 C 2003.3,1934.6 2008.3,1924.2 2015.0,1915.0 C 2021.7,1905.8 2032.5,1896.0 2040.0,1890.0 C 2047.5,1884.0 2053.8,1881.0 2060.0,1878.8 C 2066.2,1876.5 2071.7,1876.0 2077.5,1876.2 Z"/>
<path class="ln" d="M 2090.0,1880.0 C 2091.7,1882.9 2097.9,1889.6 2100.0,1897.5 C 2102.1,1905.4 2102.9,1917.5 2102.5,1927.5 C 2102.1,1937.5 2100.4,1948.3 2097.5,1957.5 C 2094.6,1966.7 2090.4,1974.6 2085.0,1982.5 C 2079.6,1990.4 2072.5,1999.2 2065.0,2005.0 C 2057.5,2010.8 2048.8,2015.0 2040.0,2017.5 C 2031.2,2020.0 2017.1,2019.6 2012.5,2020.0"/>
<path class="ln" d="M 2000.0,1973.8 L 2047.5,2000.0"/>
<ellipse class="ln" cx="2121.2" cy="1842.0" rx="12.5" ry="20.5" transform="rotate(30 2121.2 1842.0)"/>
<path class="ln" d="M 2127.2,1826.0 C 2129.2,1836.0 2125.2,1850.0 2110.2,1857.0"/>
<ellipse class="ln" cx="2013.8" cy="1872.5" rx="12.5" ry="20.5" transform="rotate(30 2013.8 1872.5)"/>
<path class="ln" d="M 2019.8,1856.5 C 2021.8,1866.5 2017.8,1880.5 2002.8,1887.5"/>
<ellipse class="ln" cx="2132.5" cy="1955.5" rx="12.5" ry="20.5" transform="rotate(30 2132.5 1955.5)"/>
<path class="ln" d="M 2138.5,1939.5 C 2140.5,1949.5 2136.5,1963.5 2121.5,1970.5"/>
<ellipse class="ln" cx="1958.8" cy="2001.8" rx="12.5" ry="20.5" transform="rotate(30 1958.8 2001.8)"/>
<path class="ln" d="M 1964.8,1985.8 C 1966.8,1995.8 1962.8,2009.8 1947.8,2016.8"/>
<ellipse class="ln" cx="2031.2" cy="2058.0" rx="12.5" ry="20.5" transform="rotate(30 2031.2 2058.0)"/>
<path class="ln" d="M 2037.2,2042.0 C 2039.2,2052.0 2035.2,2066.0 2020.2,2073.0"/>
<path class="ln" d="M 2085.0,2013.0 C 2090.0,2009.0 2098.0,2010.0 2100.0,2015.0 L 2101.0,2023.0"/>
<path class="ln" d="M 2080.0,2016.0 C 2076.0,2024.0 2076.0,2035.0 2080.0,2040.0 C 2084.0,2043.0 2090.0,2042.0 2093.0,2039.0"/>
<ellipse class="ln" cx="2086.0" cy="2027.0" rx="4.0" ry="7.0" transform="rotate(20 2086.0 2027.0)"/>
<path class="ln" d="M 1897.5,2288.0 L 1897.5,2342.0"/>
<path class="ln" d="M 535.0,2097.5 L 562.5,2065.0 L 603.8,2065.0 L 631.2,2035.0 L 658.8,2065.0 L 697.5,2065.0 L 724.0,2097.5"/>
<path class="ln" d="M 580.0,2076.2 L 580.0,2108.8"/>
<path class="ln" d="M 676.2,2076.2 L 676.2,2137.5"/>
<path class="ln" d="M 476.8,2086.2 L 476.8,2170.0"/>
<path class="ln" d="M 328.8,2316.2 L 357.0,2285.0 L 397.5,2285.0 L 424.2,2255.0 L 451.8,2285.0 L 488.8,2285.0 L 516.2,2316.2"/>
<path class="ln" d="M 369.2,2293.8 L 369.2,2397.5"/>
<path class="ln" d="M 482.5,2295.0 L 482.5,2342.5"/>
<path class="ln" d="M 388.0,2081.2 C 387.7,2080.0 385.9,2076.5 386.2,2073.8 C 386.6,2071.0 388.3,2067.4 390.0,2065.0 C 391.7,2062.6 394.2,2060.8 396.2,2059.5 C 398.3,2058.2 400.5,2057.0 402.5,2057.0 C 404.5,2057.0 406.8,2058.2 408.0,2059.5 C 409.2,2060.8 410.0,2063.0 410.0,2065.0 C 410.0,2067.0 409.0,2069.4 408.0,2071.2 C 407.0,2073.1 404.7,2074.8 403.8,2076.2 C 402.8,2077.7 402.7,2077.5 402.5,2080.0 C 402.3,2082.5 401.7,2088.8 402.5,2091.2 C 403.3,2093.8 405.6,2093.5 407.5,2095.0 C 409.4,2096.5 412.5,2097.9 413.8,2100.0 C 415.0,2102.1 414.8,2103.5 415.0,2107.5 C 415.2,2111.5 415.0,2121.0 415.0,2123.8"/>
<path class="ln" d="M 391.2,2080.0 C 391.7,2078.5 392.5,2073.8 393.8,2071.2 C 395.0,2068.8 397.1,2066.4 398.8,2065.0 C 400.4,2063.6 402.5,2063.0 403.8,2063.0 C 405.0,2063.0 405.8,2064.7 406.2,2065.0"/>
<path class="ln" d="M 402.5,2080.0 C 402.3,2082.1 402.5,2088.3 401.2,2092.5 C 400.0,2096.7 396.9,2101.7 395.0,2105.0 C 393.1,2108.3 390.8,2106.0 390.0,2112.5 C 389.2,2119.0 389.4,2138.0 390.0,2143.8 C 390.6,2149.5 392.3,2146.6 393.8,2147.0 C 395.2,2147.4 397.9,2146.4 398.8,2146.2"/>
<path class="ln" d="M 396.2,2130.0 C 396.9,2129.0 398.3,2125.2 400.0,2123.8 C 401.7,2122.3 404.4,2121.2 406.2,2121.2 C 408.1,2121.2 409.4,2122.7 411.2,2123.8 C 413.1,2124.8 415.2,2125.8 417.5,2127.5 C 419.8,2129.2 423.2,2132.1 425.0,2133.8 C 426.8,2135.4 427.5,2136.9 428.0,2137.5"/>
<path class="ln" d="M 398.8,2143.8 C 399.8,2144.8 402.5,2148.6 405.0,2150.0 C 407.5,2151.4 410.8,2151.4 413.8,2152.0 C 416.7,2152.6 419.8,2152.9 422.5,2153.8 C 425.2,2154.6 428.8,2156.5 430.0,2157.0"/>
<ellipse class="ln" cx="400.0" cy="2136.2" rx="4.5" ry="10.0" transform="rotate(20 400.0 2136.2)"/>
<ellipse class="ln" cx="413.8" cy="2140.0" rx="3.5" ry="9.5" transform="rotate(25 413.8 2140.0)"/>
<ellipse class="ln" cx="420.5" cy="2143.0" rx="3.0" ry="8.0" transform="rotate(25 420.5 2143.0)"/>
<ellipse class="ln" cx="430.5" cy="2149.2" rx="2.5" ry="6.5" transform="rotate(25 430.5 2149.2)"/>
<ellipse class="ln" cx="438.0" cy="2153.8" rx="2.5" ry="6.0" transform="rotate(25 438.0 2153.8)"/>
<path class="ln" d="M 443.8,2153.8 L 616.2,2251.2"/>
<path class="ln" d="M 442.0,2160.5 L 613.8,2258.0"/>
<ellipse class="ln" cx="618.0" cy="2255.5" rx="4.5" ry="5.0" transform="rotate(0 618.0 2255.5)"/>
<path class="ln" d="M 621.8,2261.2 L 627.5,2258.8 L 633.8,2261.2 L 635.0,2285.0 L 628.8,2288.0 L 621.8,2288.8 L 621.8,2261.2"/>
<path class="ln" d="M 627.5,2259.5 L 628.0,2287.5"/>
<path class="ln" d="M 628.0,2267.5 L 634.0,2266.2"/>
<path class="ln" d="M 628.0,2280.0 L 634.5,2278.8"/>
<path class="ln" d="M 629.5,2293.8 L 629.5,2432.5"/>
<path class="ln" d="M 568.8,2143.8 C 567.9,2142.5 564.5,2139.2 563.8,2136.2 C 563.0,2133.3 563.2,2129.5 564.5,2126.2 C 565.8,2123.0 568.7,2119.2 571.2,2117.0 C 573.8,2114.8 577.1,2113.5 580.0,2113.2 C 582.9,2113.0 586.2,2114.2 588.8,2115.5 C 591.2,2116.8 593.6,2119.0 595.0,2121.2 C 596.4,2123.5 596.7,2127.5 597.0,2128.8"/>
<path class="ln" d="M 565.0,2140.0 C 566.0,2140.9 569.0,2144.2 571.2,2145.5 C 573.5,2146.8 576.5,2147.8 578.8,2148.0 C 581.0,2148.2 584.0,2146.8 585.0,2146.5"/>
<path class="ln" d="M 576.2,2140.0 C 576.0,2138.8 574.6,2134.8 575.0,2132.5 C 575.4,2130.2 577.1,2127.6 578.8,2126.2 C 580.4,2124.9 583.1,2124.2 585.0,2124.5 C 586.9,2124.8 589.2,2127.4 590.0,2128.0"/>
<path class="ln" d="M 587.5,2127.5 L 612.5,2142.5"/>
<path class="ln" d="M 582.5,2140.0 L 610.0,2155.0"/>
<path class="ln" d="M 610.0,2143.0 C 610.8,2143.5 613.8,2144.7 614.5,2146.2 C 615.2,2147.8 615.0,2151.0 614.5,2152.5 C 614.0,2154.0 611.8,2154.6 611.2,2155.0"/>
<path class="ln" d="M 590.0,2142.5 C 589.6,2141.7 587.5,2139.4 587.5,2137.5 C 587.5,2135.6 589.1,2132.3 590.0,2131.2 C 590.9,2130.2 592.5,2131.2 593.0,2131.2"/>
<path class="ln" d="M 595.0,2145.5 C 594.6,2144.6 592.5,2141.9 592.5,2140.0 C 592.5,2138.1 594.1,2135.2 595.0,2134.2 C 595.9,2133.3 597.5,2134.2 598.0,2134.2"/>
<path class="ln" d="M 600.0,2148.2 C 599.6,2147.4 597.5,2144.8 597.5,2143.0 C 597.5,2141.2 599.1,2138.2 600.0,2137.2 C 600.9,2136.3 602.5,2137.2 603.0,2137.2"/>
<path class="ln" d="M 605.0,2151.2 C 604.6,2150.4 602.5,2147.8 602.5,2146.0 C 602.5,2144.2 604.1,2141.2 605.0,2140.2 C 605.9,2139.3 607.5,2140.2 608.0,2140.2"/>
<path class="ln" d="M 615.0,2150.0 L 628.0,2158.0"/>
<path class="ln" d="M 309.5,2373.0 L 315.5,2371.5 L 323.8,2376.5 L 324.0,2381.0 L 427.5,2438.0"/>
<path class="ln" d="M 427.5,2438.0 L 433.0,2437.5 L 446.2,2445.5 L 447.0,2472.5 L 444.2,2476.2 L 437.5,2475.8 L 427.5,2469.5 L 325.0,2411.2 L 322.5,2407.5 L 309.5,2399.5 L 309.5,2373.0"/>
<path class="ln" d="M 426.2,2440.0 L 427.0,2443.8 L 445.0,2449.5"/>
<path class="ln" d="M 323.8,2395.0 L 327.0,2392.0 L 425.0,2445.0 L 426.2,2452.5 L 424.5,2458.0 L 422.0,2458.0 L 323.8,2404.2 L 322.5,2399.5 L 323.8,2395.0"/>
<path class="ln" d="M 448.8,2461.2 L 473.8,2477.5"/>
<path class="ln" d="M 462.5,2346.2 L 475.0,2343.8 L 496.2,2355.0 L 485.0,2358.8 L 462.5,2346.2"/>
<path class="ln" d="M 473.8,2352.5 L 473.8,2373.0 L 478.0,2380.0 L 470.0,2390.0 L 475.0,2395.0 L 486.2,2392.5 L 485.5,2387.5 L 493.8,2388.0 L 496.2,2385.0 L 496.2,2356.2"/>
<path class="ln" d="M 500.0,2366.2 L 548.8,2355.0"/>
<path class="ln" d="M 568.0,2382.5 L 568.0,2327.5 L 566.2,2323.0 L 551.2,2311.2 L 537.0,2313.8 L 535.5,2323.8 L 535.0,2339.5 L 543.8,2347.0"/>
<path class="ln" d="M 543.8,2347.0 C 544.7,2348.0 548.3,2350.8 549.5,2353.0 C 550.7,2355.2 551.1,2357.8 550.8,2360.5 C 550.4,2363.2 549.5,2366.8 547.5,2369.5 C 545.5,2372.2 542.5,2375.2 538.8,2377.0 C 535.0,2378.8 529.4,2378.8 525.0,2380.0 C 520.6,2381.2 516.2,2382.3 512.5,2384.5 C 508.8,2386.7 505.5,2389.8 503.0,2393.0 C 500.5,2396.2 498.8,2398.8 497.5,2403.8 C 496.2,2408.7 496.0,2414.0 495.5,2422.5 C 495.0,2431.0 494.5,2449.6 494.2,2455.0"/>
<path class="ln" d="M 494.2,2455.0 L 486.2,2461.2 L 481.2,2466.2 L 480.0,2472.5 L 480.0,2506.2 L 486.2,2512.5 L 492.5,2510.0"/>
<path class="ln" d="M 492.5,2510.0 C 492.7,2513.3 492.9,2523.5 493.8,2530.0 C 494.6,2536.5 496.0,2543.5 497.5,2548.8 C 499.0,2554.0 500.4,2557.5 502.5,2561.2 C 504.6,2565.0 506.7,2568.1 510.0,2571.2 C 513.3,2574.4 518.1,2577.5 522.5,2580.0 C 526.9,2582.5 534.0,2585.2 536.2,2586.2"/>
<path class="ln" d="M 546.2,2322.0 L 561.2,2319.5 L 566.2,2323.0"/>
<path class="ln" d="M 546.2,2322.0 L 545.0,2347.5 L 552.0,2353.0"/>
<path class="ln" d="M 552.0,2353.0 C 552.3,2354.4 553.8,2358.4 553.8,2361.2 C 553.8,2364.1 553.2,2367.4 552.0,2370.0 C 550.8,2372.6 548.7,2375.2 546.2,2377.0 C 543.8,2378.8 540.8,2379.5 537.5,2380.5 C 534.2,2381.5 530.0,2381.8 526.2,2383.0 C 522.5,2384.2 518.1,2385.6 515.0,2388.0 C 511.9,2390.4 509.4,2393.4 507.5,2397.5 C 505.6,2401.6 504.8,2406.2 503.8,2412.5 C 502.7,2418.8 502.0,2427.1 501.2,2435.0 C 500.5,2442.9 499.6,2455.8 499.2,2460.0"/>
<path class="ln" d="M 499.2,2460.0 L 492.5,2466.2 L 488.0,2473.8 L 488.0,2500.0 L 492.5,2502.5 L 498.0,2506.2"/>
<path class="ln" d="M 498.0,2506.2 C 498.1,2510.2 498.1,2522.9 498.8,2530.0 C 499.4,2537.1 500.5,2543.3 502.0,2548.8 C 503.5,2554.2 505.3,2558.5 507.5,2562.5 C 509.7,2566.5 513.8,2570.8 515.0,2572.5"/>
<path class="ln" d="M 493.8,2475.0 L 498.8,2473.8 L 498.8,2500.0 L 493.8,2501.2"/>
<path class="ln" d="M 521.2,2416.2 C 522.1,2414.6 523.3,2409.3 526.2,2406.2 C 529.2,2403.2 533.5,2400.2 538.8,2398.0 C 544.0,2395.8 551.5,2393.9 557.5,2393.0 C 563.5,2392.1 570.4,2392.0 575.0,2392.5 C 579.6,2393.0 582.4,2394.0 585.0,2396.2 C 587.6,2398.5 589.5,2402.3 590.8,2406.2 C 592.0,2410.2 592.3,2411.9 592.5,2420.0 C 592.7,2428.1 592.2,2447.5 591.8,2455.0 C 591.3,2462.5 592.2,2461.9 590.0,2465.0 C 587.8,2468.1 581.9,2471.0 578.8,2473.8 C 575.6,2476.5 572.9,2478.3 571.2,2481.2 C 569.6,2484.2 568.8,2488.1 568.8,2491.2 C 568.8,2494.4 569.8,2498.0 571.2,2500.0 C 572.7,2502.0 575.0,2502.8 577.5,2503.2 C 580.0,2503.8 584.8,2503.0 586.2,2503.0"/>
<path class="ln" d="M 586.2,2503.0 C 586.7,2505.8 588.1,2513.4 588.8,2520.0 C 589.4,2526.6 590.1,2536.9 590.0,2542.5 C 589.9,2548.1 589.7,2549.7 588.0,2553.8 C 586.3,2557.8 583.4,2563.2 580.0,2567.0 C 576.6,2570.8 572.5,2573.5 567.5,2576.2 C 562.5,2579.0 554.6,2582.1 550.0,2583.8 C 545.4,2585.4 541.7,2585.8 540.0,2586.2"/>
<path class="ln" d="M 521.2,2416.2 C 520.5,2419.4 518.2,2428.5 517.0,2435.0 C 515.8,2441.5 514.9,2446.2 514.2,2455.0 C 513.6,2463.8 513.2,2482.1 513.0,2487.5"/>
<path class="ln" d="M 513.0,2511.2 C 513.1,2514.4 513.1,2522.9 513.8,2530.0 C 514.4,2537.1 515.3,2546.7 517.0,2553.8 C 518.7,2560.8 521.0,2567.7 523.8,2572.5 C 526.5,2577.3 531.0,2580.2 533.8,2582.5 C 536.5,2584.8 539.0,2585.6 540.0,2586.2"/>
<path class="ln" d="M 550.0,2383.0 L 563.8,2381.2 L 570.0,2383.5"/>
<path class="ln" d="M 536.2,2587.0 C 536.2,2589.0 537.0,2595.8 536.2,2598.8 C 535.5,2601.8 532.8,2602.1 532.0,2605.0 C 531.2,2607.9 529.9,2613.2 531.2,2616.2 C 532.6,2619.2 537.5,2621.2 540.0,2623.0 C 542.5,2624.8 543.8,2626.8 546.2,2627.0 C 548.8,2627.2 552.6,2626.1 555.0,2624.5 C 557.4,2622.9 559.2,2624.5 560.5,2617.5 C 561.8,2610.5 562.2,2588.3 562.5,2582.5"/>
<path class="ln" d="M 548.8,2587.0 L 548.8,2602.5 L 544.5,2607.5 L 543.0,2626.2"/>
<path class="ln" d="M 576.2,2480.0 L 576.2,2495.0"/>
<path class="ln" d="M 496.2,2490.0 L 595.0,2546.2"/>
<path class="ln" d="M 550.0,2633.8 L 550.0,2735.0"/>
<path class="ln" d="M 628.8,2156.2 C 627.9,2158.3 624.8,2164.2 623.8,2168.8 C 622.7,2173.3 622.4,2179.6 622.5,2183.8 C 622.6,2187.9 623.2,2191.2 624.5,2193.8 C 625.8,2196.2 627.8,2197.2 630.0,2198.8 C 632.2,2200.3 636.7,2202.3 638.0,2203.0"/>
<path class="ln" d="M 630.0,2153.8 C 631.2,2152.3 634.6,2147.4 637.5,2145.0 C 640.4,2142.6 644.6,2140.8 647.5,2139.5 C 650.4,2138.2 652.7,2137.7 655.0,2137.5 C 657.3,2137.3 658.5,2137.2 661.2,2138.2 C 664.0,2139.3 669.6,2142.8 671.2,2143.8"/>
<path class="ln" d="M 671.2,2143.8 C 673.3,2143.8 680.2,2142.9 683.8,2143.8 C 687.3,2144.6 690.0,2146.7 692.5,2148.8 C 695.0,2150.8 697.3,2153.5 698.8,2156.2 C 700.2,2159.0 700.8,2161.9 701.2,2165.0 C 701.7,2168.1 701.5,2172.1 701.2,2175.0 C 701.0,2177.9 700.2,2181.2 700.0,2182.5"/>
<path class="ln" d="M 638.0,2202.5 C 637.8,2200.4 636.7,2194.6 637.0,2190.0 C 637.3,2185.4 638.5,2179.6 640.0,2175.0 C 641.5,2170.4 643.8,2166.0 646.2,2162.5 C 648.8,2159.0 651.9,2156.2 655.0,2153.8 C 658.1,2151.3 661.5,2149.4 665.0,2148.0 C 668.5,2146.6 673.1,2145.9 676.2,2145.5 C 679.4,2145.1 682.5,2145.5 683.8,2145.5"/>
<path class="ln" d="M 638.8,2203.8 C 639.0,2204.9 639.2,2208.4 640.5,2210.5 C 641.8,2212.6 643.6,2214.6 646.2,2216.2 C 648.9,2217.9 652.9,2220.0 656.2,2220.5 C 659.6,2221.0 662.9,2220.5 666.2,2219.5 C 669.6,2218.5 673.3,2216.4 676.2,2214.5 C 679.2,2212.6 682.5,2209.1 683.8,2208.0"/>
<path class="ln" d="M 648.0,2181.2 C 647.5,2183.5 645.3,2190.8 645.0,2195.0 C 644.7,2199.2 645.4,2203.3 646.2,2206.2 C 647.1,2209.2 649.4,2211.5 650.0,2212.5"/>
<path class="ln" d="M 663.8,2172.5 L 661.2,2178.8 L 661.2,2195.0 L 663.8,2197.5 L 683.8,2207.0"/>
<path class="ln" d="M 663.8,2172.5 C 664.8,2172.0 667.3,2169.8 670.0,2169.5 C 672.7,2169.2 678.3,2170.3 680.0,2170.5"/>
<path class="ln" d="M 680.0,2170.5 L 697.5,2180.5"/>
<ellipse class="ln" cx="695.0" cy="2196.2" rx="6.2" ry="11.2" transform="rotate(25 695.0 2196.2)"/>
<ellipse class="ln" cx="693.0" cy="2198.0" rx="2.8" ry="5.0" transform="rotate(25 693.0 2198.0)"/>
<path class="ln" d="M 695.0,2196.2 L 753.8,2231.2"/>
<path class="ln" d="M 861.2,2127.5 C 862.7,2126.5 866.9,2123.0 870.0,2121.2 C 873.1,2119.5 876.5,2117.6 880.0,2117.0 C 883.5,2116.4 887.5,2116.6 891.2,2117.5 C 895.0,2118.4 892.7,2117.1 902.5,2122.5 C 912.3,2127.9 942.1,2145.4 950.0,2150.0"/>
<path class="ln" d="M 863.8,2126.2 L 875.0,2125.0 L 895.0,2136.2 L 942.5,2165.0 L 952.5,2175.0 L 968.8,2206.2"/>
<path class="ln" d="M 861.2,2127.5 C 860.2,2129.2 857.1,2134.2 855.0,2137.5 C 852.9,2140.8 851.7,2145.0 848.8,2147.5 C 845.8,2150.0 841.0,2150.9 837.5,2152.5 C 834.0,2154.1 830.8,2155.7 827.5,2157.0 C 824.2,2158.3 819.8,2159.2 817.5,2160.5 C 815.2,2161.8 814.4,2164.2 813.8,2165.0"/>
<path class="ln" d="M 852.5,2150.0 C 856.5,2150.2 865.0,2146.9 876.2,2151.2 C 887.5,2155.6 908.1,2169.2 920.0,2176.2 C 931.9,2183.3 939.4,2188.5 947.5,2193.8 C 955.6,2199.0 965.2,2205.2 968.8,2207.5"/>
<path class="ln" d="M 828.8,2163.0 C 832.9,2163.3 841.5,2160.1 853.8,2165.0 C 866.0,2169.9 892.3,2186.2 902.5,2192.5 C 912.7,2198.8 912.5,2199.2 915.0,2202.5 C 917.5,2205.8 917.7,2209.8 917.5,2212.5 C 917.3,2215.2 915.8,2217.5 913.8,2218.8 C 911.7,2220.0 908.5,2220.4 905.0,2220.0 C 901.5,2219.6 898.3,2218.3 892.5,2216.2 C 886.7,2214.2 876.2,2209.3 870.0,2207.5 C 863.8,2205.7 867.9,2206.1 855.0,2205.5 C 842.1,2204.9 805.4,2203.6 792.5,2203.8 C 779.6,2203.9 780.0,2205.8 777.5,2206.2"/>
<path class="ln" d="M 813.8,2165.0 C 812.7,2166.7 809.8,2171.6 807.5,2175.0 C 805.2,2178.4 802.9,2182.2 800.0,2185.5 C 797.1,2188.8 793.8,2191.7 790.0,2195.0 C 786.2,2198.3 781.7,2202.9 777.5,2205.5 C 773.3,2208.1 768.2,2208.7 765.0,2210.5 C 761.8,2212.3 759.6,2213.0 758.2,2216.2 C 756.9,2219.5 757.0,2224.0 756.8,2230.0 C 756.5,2236.0 756.5,2247.5 757.0,2252.5 C 757.5,2257.5 758.6,2258.1 760.0,2260.0 C 761.4,2261.9 764.6,2263.1 765.5,2263.8"/>
<path class="ln" d="M 770.0,2246.2 C 769.8,2247.9 769.7,2252.3 768.8,2256.2 C 767.8,2260.2 765.9,2264.4 764.5,2270.0 C 763.1,2275.6 761.4,2283.8 760.5,2290.0 C 759.6,2296.2 758.6,2302.7 759.0,2307.5 C 759.4,2312.3 760.7,2315.8 763.0,2318.8 C 765.3,2321.8 769.1,2323.1 773.0,2325.5 C 776.9,2327.9 784.0,2332.0 786.2,2333.2"/>
<path class="ln" d="M 786.2,2333.2 L 797.0,2330.5 L 850.0,2357.5 L 880.5,2370.5"/>
<path class="ln" d="M 880.5,2370.5 C 881.2,2372.9 882.6,2380.7 885.0,2385.0 C 887.4,2389.3 891.7,2393.3 895.0,2396.2 C 898.3,2399.2 902.4,2399.8 905.0,2402.5 C 907.6,2405.2 909.7,2408.8 910.8,2412.5 C 911.8,2416.2 911.8,2421.6 911.2,2425.0 C 910.7,2428.4 909.3,2430.9 907.5,2433.0 C 905.7,2435.1 901.7,2436.8 900.5,2437.5"/>
<path class="ln" d="M 900.5,2437.5 L 881.2,2423.8 L 870.8,2430.5 L 855.0,2429.0 L 782.5,2425.0"/>
<path class="ln" d="M 782.5,2425.0 C 781.8,2425.6 779.7,2425.4 778.0,2428.8 C 776.3,2432.1 774.2,2440.6 772.5,2445.0 C 770.8,2449.4 769.2,2452.9 767.5,2455.0 C 765.8,2457.1 764.1,2457.7 762.0,2457.5 C 759.9,2457.3 756.2,2454.4 755.0,2453.8"/>
<path class="ln" d="M 773.8,2330.0 C 772.1,2331.9 766.2,2337.5 763.8,2341.2 C 761.3,2345.0 760.0,2346.5 759.0,2352.5 C 758.0,2358.5 758.8,2370.0 757.5,2377.5 C 756.2,2385.0 753.1,2391.5 751.2,2397.5 C 749.4,2403.5 747.1,2407.9 746.2,2413.8 C 745.4,2419.6 745.6,2426.9 746.2,2432.5 C 746.9,2438.1 748.5,2444.0 750.0,2447.5 C 751.5,2451.0 754.2,2452.7 755.0,2453.8"/>
<path class="ln" d="M 777.0,2216.2 C 778.7,2218.0 784.6,2223.0 787.0,2227.0 C 789.4,2231.0 789.8,2234.1 791.2,2240.0 C 792.7,2245.9 794.0,2255.0 795.5,2262.5 C 797.0,2270.0 797.9,2278.5 800.5,2285.0 C 803.1,2291.5 807.2,2295.6 811.2,2301.2 C 815.3,2306.9 820.6,2312.9 825.0,2318.8 C 829.4,2324.6 833.3,2331.5 837.5,2336.2 C 841.7,2341.0 842.7,2342.7 850.0,2347.5 C 857.3,2352.3 876.0,2362.1 881.2,2365.0"/>
<path class="ln" d="M 763.8,2362.5 C 766.2,2364.0 774.9,2368.1 778.8,2371.2 C 782.6,2374.4 784.5,2378.8 787.0,2381.2 C 789.5,2383.8 779.9,2378.1 793.8,2386.2 C 807.6,2394.4 857.3,2422.7 870.0,2430.0"/>
<path class="ln" d="M 751.2,2415.0 L 773.8,2426.2"/>
<ellipse class="ln" cx="758.8" cy="2436.5" rx="3.5" ry="4.8" transform="rotate(20 758.8 2436.5)"/>
<path class="ln" d="M 748.8,2450.0 C 750.0,2452.3 753.3,2459.8 756.2,2463.8 C 759.2,2467.7 762.9,2470.7 766.2,2473.8 C 769.6,2476.8 774.6,2480.6 776.2,2482.0"/>
<path class="ln" d="M 752.5,2457.0 C 754.0,2459.0 758.1,2465.2 761.2,2468.8 C 764.4,2472.2 768.5,2475.8 771.2,2478.0 C 774.0,2480.2 776.5,2481.3 777.5,2482.0"/>
<path class="ln" d="M 881.2,2369.5 C 882.1,2365.8 884.4,2355.1 886.2,2347.5 C 888.1,2339.9 889.8,2332.5 892.5,2323.8 C 895.2,2315.0 899.0,2304.2 902.5,2295.0 C 906.0,2285.8 909.8,2277.1 913.8,2268.8 C 917.7,2260.4 922.3,2252.3 926.2,2245.0 C 930.2,2237.7 935.6,2228.3 937.5,2225.0"/>
<path class="ln" d="M 897.5,2392.5 C 897.8,2388.8 898.2,2380.4 899.5,2370.0 C 900.8,2359.6 902.4,2342.1 905.0,2330.0 C 907.6,2317.9 910.8,2308.3 915.0,2297.5 C 919.2,2286.7 924.2,2275.4 930.0,2265.0 C 935.8,2254.6 946.7,2240.0 950.0,2235.0"/>
<path class="ln" d="M 873.8,2436.2 C 874.0,2439.8 874.5,2449.9 875.0,2457.5 C 875.5,2465.1 876.7,2477.9 877.0,2482.0"/>
<path class="ln" d="M 892.5,2437.5 C 892.9,2441.2 894.2,2452.6 895.0,2460.0 C 895.8,2467.4 897.1,2478.3 897.5,2482.0"/>
<path class="ln" d="M 918.8,2482.0 C 919.0,2475.0 919.2,2457.4 920.0,2440.0 C 920.8,2422.6 921.7,2396.2 923.8,2377.5 C 925.8,2358.8 929.0,2343.8 932.5,2327.5 C 936.0,2311.2 941.0,2292.9 945.0,2280.0 C 949.0,2267.1 954.0,2256.7 956.2,2250.0 C 958.5,2243.3 958.9,2243.1 958.8,2240.0 C 958.6,2236.9 957.6,2234.2 955.5,2231.2 C 953.4,2228.3 947.8,2224.0 946.2,2222.5"/>
<path class="ln" d="M 942.5,2482.0 C 942.3,2475.0 940.8,2457.4 941.2,2440.0 C 941.7,2422.6 942.7,2394.2 945.0,2377.5 C 947.3,2360.8 951.2,2350.4 955.0,2340.0 C 958.8,2329.6 961.7,2321.2 967.5,2315.0 C 973.3,2308.8 985.2,2303.5 990.0,2302.5 C 994.8,2301.5 994.6,2304.6 996.2,2308.8 C 997.9,2312.9 1000.0,2318.1 1000.0,2327.5 C 1000.0,2336.9 997.7,2350.4 996.2,2365.0 C 994.8,2379.6 992.5,2395.5 991.2,2415.0 C 990.0,2434.5 989.2,2470.8 988.8,2482.0"/>
<path class="ln" d="M 960.0,2275.0 C 961.0,2277.1 964.8,2282.1 966.2,2287.5 C 967.7,2292.9 968.5,2302.9 968.8,2307.5 C 969.0,2312.1 967.7,2313.8 967.5,2315.0"/>
<path class="ln" d="M 961.2,2270.0 L 972.5,2265.0"/>
<path class="ln" d="M 975.0,2266.2 C 975.2,2268.5 975.1,2276.0 976.2,2280.0 C 977.4,2284.0 979.7,2287.7 982.0,2290.0 C 984.3,2292.3 987.3,2293.3 990.0,2293.8 C 992.7,2294.2 995.9,2294.0 998.0,2292.5 C 1000.1,2291.0 1001.5,2289.4 1002.5,2285.0 C 1003.5,2280.6 1003.8,2269.4 1004.0,2266.2"/>
<path class="ln" d="M 975.0,2265.0 C 974.9,2263.8 973.7,2259.5 974.5,2257.5 C 975.3,2255.5 977.4,2253.9 980.0,2253.0 C 982.6,2252.1 986.9,2251.9 990.0,2252.0 C 993.1,2252.1 996.4,2252.6 998.8,2253.8 C 1001.1,2254.9 1003.1,2256.7 1004.0,2258.8 C 1004.9,2260.8 1005.0,2264.4 1004.0,2266.2 C 1003.0,2268.1 1000.8,2269.3 998.0,2270.0 C 995.2,2270.7 990.9,2271.1 987.5,2270.5 C 984.1,2269.9 979.2,2267.0 977.5,2266.2"/>
<ellipse class="ln" cx="988.8" cy="2261.2" rx="6.0" ry="2.2" transform="rotate(0 988.8 2261.2)"/>
<path class="ln" d="M 992.5,2210.0 L 989.5,2260.0"/>
<path class="ln" d="M 950.0,2150.0 C 952.1,2149.2 958.3,2145.6 962.5,2145.0 C 966.7,2144.4 970.4,2144.6 975.0,2146.2 C 979.6,2147.9 986.5,2151.9 990.0,2155.0 C 993.5,2158.1 995.0,2161.2 996.2,2165.0 C 997.5,2168.8 997.9,2173.3 997.5,2177.5 C 997.1,2181.7 995.2,2186.9 993.8,2190.0 C 992.3,2193.1 989.6,2195.2 988.8,2196.2"/>
<path class="ln" d="M 966.2,2160.5 C 967.7,2159.7 971.8,2156.1 975.0,2155.5 C 978.2,2154.9 983.8,2156.8 985.5,2157.0"/>
<path class="ln" d="M 972.5,2176.2 C 973.2,2175.3 975.3,2171.1 977.0,2170.5 C 978.7,2169.9 981.3,2170.4 982.5,2172.5 C 983.7,2174.6 983.8,2181.2 984.0,2183.0"/>
<path class="ln" d="M 985.0,2188.8 L 1001.2,2198.8"/>
<path class="ln" d="M 947.5,2218.8 L 968.0,2208.0"/>
<path class="ln" d="M 960.0,2232.5 L 972.5,2226.2"/>
<path class="ln" d="M 970.0,2265.0 C 970.1,2261.7 969.9,2250.4 970.8,2245.0 C 971.6,2239.6 973.0,2236.1 975.0,2232.5 C 977.0,2228.9 981.7,2224.8 983.0,2223.2"/>
<path class="ln" d="M 1000.0,2232.5 L 1012.0,2265.0"/>
<path class="ln" d="M 1003.0,2315.0 L 1012.0,2295.0"/>
<path class="ln" d="M 812.5,2090.0 L 861.2,2116.2"/>
<path class="ln" d="M 655.0,2383.8 L 671.2,2380.0 L 686.2,2389.5 L 687.5,2447.5 L 695.0,2482.0"/>
<path class="ln" d="M 655.0,2383.8 L 653.8,2408.8 L 663.8,2416.2 L 665.0,2390.0 L 680.0,2387.5"/>
<path class="ln" d="M 663.8,2416.2 C 665.0,2416.9 669.7,2417.7 671.2,2420.0 C 672.8,2422.3 673.4,2426.5 673.0,2430.0 C 672.6,2433.5 671.3,2437.9 668.8,2441.2 C 666.2,2444.6 662.3,2447.9 657.5,2450.0 C 652.7,2452.1 645.0,2452.3 640.0,2453.8 C 635.0,2455.2 630.8,2456.9 627.5,2458.8 C 624.2,2460.6 621.2,2464.0 620.0,2465.0"/>
<path class="ln" d="M 660.0,2437.5 C 657.5,2437.5 650.0,2437.3 645.0,2437.5 C 640.0,2437.7 634.2,2437.9 630.0,2438.8 C 625.8,2439.6 621.7,2441.9 620.0,2442.5"/>
<path class="ln" d="M 1147.5,2040.1 L 1185.5,2072.6 L 1185.5,2320.0"/>
<path class="ln" d="M 1087.8,2101.3 L 1137.5,2101.3"/>
<path class="ln" d="M 1066.8,2182.2 L 1135.6,2182.2"/>
<ellipse class="ln" cx="1052.8" cy="2087.9" rx="13.4" ry="8.6" transform="rotate(0 1052.8 2087.9)"/>
<path class="ln" d="M 1038.8,2086.0 C 1038.6,2087.8 1038.2,2094.5 1037.5,2096.5 C 1036.8,2098.6 1035.3,2097.2 1034.6,2098.4 C 1034.0,2099.7 1033.3,2102.4 1033.7,2104.2 C 1034.0,2105.9 1034.8,2107.7 1036.5,2109.0 C 1038.3,2110.2 1041.0,2111.3 1044.2,2111.8 C 1047.4,2112.4 1052.1,2112.5 1055.7,2112.2 C 1059.2,2111.9 1062.5,2111.6 1065.2,2109.9 C 1067.9,2108.3 1070.3,2104.5 1071.9,2102.3 C 1073.5,2100.0 1073.0,2097.8 1074.8,2096.5 C 1076.5,2095.3 1081.2,2094.9 1082.4,2094.6"/>
<path class="ln" d="M 1069.0,2087.0 L 1084.4,2094.6 L 1085.3,2096.5 L 1085.3,2106.1 L 1080.5,2109.9 L 1074.8,2113.7"/>
<path class="ln" d="M 1074.8,2113.7 C 1074.3,2115.0 1072.9,2119.3 1071.9,2121.4 C 1071.0,2123.5 1070.5,2124.7 1069.0,2126.2 C 1067.6,2127.6 1066.2,2129.0 1063.3,2130.0 C 1060.4,2131.0 1055.3,2131.9 1051.8,2131.9 C 1048.3,2131.9 1045.0,2131.1 1042.3,2130.0 C 1039.6,2128.9 1037.0,2127.0 1035.6,2125.2 C 1034.1,2123.5 1033.7,2121.2 1033.7,2119.5 C 1033.7,2117.7 1034.5,2115.8 1035.6,2114.7 C 1036.7,2113.6 1039.6,2113.1 1040.4,2112.8"/>
<ellipse class="ln" cx="1052.8" cy="2120.4" rx="12.4" ry="6.1" transform="rotate(0 1052.8 2120.4)"/>
<path class="ln" d="M 1067.1,2091.7 L 1069.0,2101.3"/>
<ellipse class="ln" cx="1052.8" cy="2146.8" rx="11.5" ry="10.5" transform="rotate(0 1052.8 2146.8)"/>
<path class="ln" d="M 1035.6,2161.6 L 1041.3,2154.9 L 1063.3,2154.9 L 1069.0,2161.6 L 1069.0,2167.3 L 1061.4,2175.0 L 1041.3,2175.0 L 1034.6,2169.2 L 1035.6,2161.6"/>
<path class="ln" d="M 1041.3,2157.7 L 1042.3,2165.4 L 1063.3,2165.4"/>
<path class="ln" d="M 1040.4,2175.0 C 1040.2,2177.8 1039.2,2187.6 1039.4,2192.2 C 1039.6,2196.8 1039.6,2200.3 1041.3,2202.7 C 1043.1,2205.1 1047.0,2206.5 1049.9,2206.5 C 1052.8,2206.5 1056.6,2205.1 1058.5,2202.7 C 1060.4,2200.3 1061.0,2196.8 1061.4,2192.2 C 1061.8,2187.6 1061.1,2177.8 1061.0,2175.0"/>
<path class="ln" d="M 1040.0,2178.8 C 1041.6,2179.3 1046.4,2181.7 1049.9,2181.7 C 1053.4,2181.6 1059.2,2179.0 1061.0,2178.4"/>
<path class="ln" d="M 1040.0,2185.5 C 1041.6,2186.0 1046.4,2188.4 1049.9,2188.4 C 1053.4,2188.3 1059.2,2185.6 1061.0,2185.1"/>
<path class="ln" d="M 1040.4,2192.2 C 1041.9,2192.7 1046.5,2195.1 1049.9,2195.1 C 1053.4,2195.0 1059.2,2192.3 1061.0,2191.8"/>
<path class="ln" d="M 1041.3,2198.9 C 1042.7,2199.4 1046.8,2201.8 1049.9,2201.7 C 1053.0,2201.7 1058.2,2199.0 1059.9,2198.5"/>
<path class="ln" d="M 1049.0,2208.4 L 1048.4,2243.8 L 992.5,2210.4 L 988.7,2262.0"/>
<path class="ln" d="M 1185.5,2300.0 L 1185.5,2346.9 L 1221.6,2378.6 L 1185.5,2410.2 L 1185.5,2686.7 L 1148.2,2718.4"/>
<path class="ln" d="M 1020.6,2377.1 L 1180.8,2377.1"/>
<path class="ln" d="M 1003.3,2653.1 L 1134.9,2653.1"/>
<path class="ln" d="M 979.8,2553.1 L 990.0,2638.8"/>
<path class="ln" d="M 981.8,2665.3 C 981.7,2662.2 980.6,2651.3 980.8,2646.9 C 981.1,2642.6 981.6,2641.0 983.3,2639.2 C 985.0,2637.4 988.4,2636.3 991.0,2636.3 C 993.7,2636.3 997.5,2637.4 999.2,2639.2 C 1000.9,2641.0 1001.0,2642.6 1001.2,2646.9 C 1001.5,2651.3 1000.9,2662.2 1000.8,2665.3"/>
<path class="ln" d="M 981.8,2646.9 C 983.4,2647.4 987.8,2650.0 991.0,2650.0 C 994.3,2650.0 999.5,2647.4 1001.2,2646.9"/>
<path class="ln" d="M 981.8,2652.0 C 983.4,2652.6 987.8,2655.1 991.0,2655.1 C 994.3,2655.1 999.5,2652.6 1001.2,2652.0"/>
<path class="ln" d="M 981.8,2657.1 C 983.4,2657.7 987.8,2660.2 991.0,2660.2 C 994.3,2660.2 999.5,2657.7 1001.2,2657.1"/>
<ellipse class="ln" cx="991.0" cy="2640.4" rx="4.1" ry="2.4" transform="rotate(0 991.0 2640.4)"/>
<path class="ln" d="M 977.8,2667.3 L 981.8,2662.2 L 1005.3,2662.2 L 1009.4,2667.3 L 1009.4,2673.5 L 1003.3,2681.6 L 985.9,2681.6 L 977.8,2673.5 L 977.8,2667.3"/>
<path class="ln" d="M 989.0,2667.3 L 989.0,2681.6"/>
<path class="ln" d="M 981.8,2667.3 L 1009.4,2667.3"/>
<path class="ln" d="M 940.0,2665.3 L 987.3,2710.2 L 992.7,2710.2 L 993.5,2701.0 L 992.0,2682.7"/>
<path class="ln" d="M 940.0,2675.5 C 947.8,2683.0 978.3,2712.7 986.9,2720.4 C 995.6,2728.2 990.2,2722.0 992.0,2722.0 C 993.9,2722.0 996.6,2721.5 998.2,2720.4 C 999.7,2719.3 1000.7,2718.7 1001.2,2715.3 C 1001.7,2711.9 1001.5,2705.4 1001.2,2700.0 C 1001.0,2694.6 999.9,2685.5 999.6,2682.7"/>
<path class="ln" d="M 942.0,2482.0 C 942.6,2484.4 943.9,2490.2 945.1,2495.9 C 946.3,2501.6 947.3,2511.2 949.2,2516.3 C 951.1,2521.4 953.1,2525.9 956.3,2526.5 C 959.6,2527.2 964.1,2523.1 968.6,2520.4 C 973.0,2517.7 979.2,2515.3 982.9,2510.2 C 986.5,2505.1 989.6,2494.5 990.6,2489.8 C 991.6,2485.1 989.1,2483.3 988.8,2482.0"/>
<path class="ln" d="M 1011.4,2300.0 C 1013.1,2305.1 1021.2,2317.0 1021.6,2330.6 C 1022.0,2344.2 1015.5,2369.7 1013.9,2381.6 C 1012.2,2393.5 1011.6,2393.5 1011.8,2402.0 C 1012.1,2410.5 1015.2,2422.4 1015.5,2432.7 C 1015.8,2442.9 1014.8,2453.1 1013.5,2463.3 C 1012.2,2473.5 1009.5,2485.7 1007.8,2493.9 C 1006.1,2502.0 1005.3,2507.8 1003.3,2512.2 C 1001.2,2516.7 998.5,2518.4 995.5,2520.8 C 992.5,2523.2 988.4,2524.2 985.3,2526.5 C 982.2,2528.8 979.9,2533.0 976.7,2534.7 C 973.6,2536.4 968.2,2536.4 966.5,2536.7"/>
<path class="ln" d="M 940.0,2540.8 C 941.0,2541.2 942.7,2543.9 946.1,2543.3 C 949.5,2542.7 956.8,2540.3 960.4,2537.1 C 964.0,2534.0 966.4,2526.6 967.6,2524.5"/>
<path class="ln" d="M 960.4,2537.1 C 960.6,2538.3 960.4,2542.1 961.4,2543.9 C 962.4,2545.7 965.7,2547.3 966.5,2548.0"/>
<path class="ln" d="M 940.0,2565.3 C 941.7,2564.3 945.8,2561.6 950.2,2559.2 C 954.6,2556.8 962.1,2552.7 966.5,2551.0 C 971.0,2549.3 973.5,2550.2 976.7,2549.0 C 980.0,2547.8 982.9,2546.3 985.9,2543.9 C 988.9,2541.5 992.9,2538.6 994.7,2534.7 C 996.5,2530.8 996.4,2522.8 996.7,2520.4"/>
<path class="ln" d="M 970.6,2520.4 L 986.9,2525.5"/>
<path class="ln" d="M 986.9,2525.5 C 987.0,2527.0 988.0,2532.0 987.3,2534.7 C 986.7,2537.4 984.5,2539.5 982.9,2541.8 C 981.3,2544.1 978.6,2547.4 977.8,2548.6"/>
<path class="ln" d="M 993.1,2499.0 C 993.3,2500.9 993.7,2507.7 994.7,2510.2 C 995.7,2512.7 998.4,2513.3 999.2,2513.9"/>
<path class="ln" d="M 654.4,2382.9 L 671.6,2379.7 L 684.5,2388.6 L 687.4,2394.3"/>
<path class="ln" d="M 687.4,2394.3 C 687.4,2403.2 686.7,2436.5 687.6,2447.3 C 688.6,2458.0 691.6,2453.0 693.1,2458.7 C 694.6,2464.5 696.3,2474.5 696.7,2481.6 C 697.0,2488.8 695.8,2494.0 695.2,2501.7 C 694.6,2509.3 693.4,2509.3 693.1,2527.4 C 692.7,2545.6 693.1,2596.6 693.1,2610.4"/>
<path class="ln" d="M 654.4,2382.9 L 653.7,2408.6 L 661.6,2414.4"/>
<path class="ln" d="M 665.2,2390.8 L 678.8,2387.2 L 684.5,2388.6"/>
<path class="ln" d="M 665.2,2390.8 L 664.5,2414.4 L 670.2,2415.8"/>
<path class="ln" d="M 658.7,2437.3 C 656.1,2437.4 648.2,2437.7 643.0,2438.0 C 637.7,2438.2 631.5,2437.9 627.2,2438.7 C 623.0,2439.5 620.3,2440.8 617.2,2443.0 C 614.1,2445.1 611.0,2448.5 608.6,2451.6 C 606.3,2454.7 604.2,2457.3 602.9,2461.6 C 601.6,2465.9 601.5,2471.1 600.8,2477.3 C 600.1,2483.5 599.3,2491.6 598.6,2498.8 C 597.9,2506.0 597.0,2513.1 596.5,2520.3 C 596.0,2527.4 595.8,2532.9 595.8,2541.7 C 595.8,2550.6 596.0,2564.6 596.5,2573.2 C 597.0,2581.8 597.5,2586.6 598.6,2593.3 C 599.7,2599.9 601.2,2607.6 602.9,2613.3 C 604.6,2619.0 606.0,2624.0 608.6,2627.6 C 611.3,2631.2 615.6,2632.9 618.7,2634.8 C 621.8,2636.7 625.8,2638.3 627.2,2639.1"/>
<path class="ln" d="M 661.6,2414.4 C 661.5,2417.7 661.8,2429.4 660.9,2434.4 C 659.9,2439.4 658.1,2442.2 655.9,2444.4 C 653.6,2446.7 650.4,2447.0 647.3,2448.0 C 644.2,2449.0 640.6,2448.6 637.3,2450.1 C 633.9,2451.7 630.2,2454.2 627.2,2457.3 C 624.3,2460.4 621.2,2464.7 619.4,2468.7 C 617.6,2472.8 617.3,2475.7 616.5,2481.6 C 615.7,2487.6 615.1,2496.7 614.4,2504.5 C 613.6,2512.4 612.6,2524.8 612.2,2528.9"/>
<path class="ln" d="M 612.2,2528.9 L 605.8,2531.7 L 600.8,2537.4 L 599.3,2541.7"/>
<path class="ln" d="M 670.2,2415.8 C 670.7,2417.0 672.6,2419.1 673.0,2423.0 C 673.5,2426.8 673.8,2434.6 673.0,2438.7 C 672.3,2442.7 670.4,2445.1 668.7,2447.3 C 667.1,2449.4 665.9,2450.4 663.0,2451.6 C 660.2,2452.8 655.4,2453.2 651.6,2454.4 C 647.8,2455.6 643.7,2456.3 640.1,2458.7 C 636.5,2461.1 632.7,2465.4 630.1,2468.7 C 627.5,2472.1 625.7,2473.8 624.4,2478.8 C 623.1,2483.8 623.1,2489.5 622.2,2498.8 C 621.4,2508.1 619.9,2528.6 619.4,2534.6"/>
<path class="ln" d="M 619.4,2534.6 L 611.5,2536.0 L 606.5,2540.3 L 605.1,2548.9 L 605.8,2577.5"/>
<path class="ln" d="M 618.7,2543.2 L 612.2,2545.3 L 611.5,2570.4 L 618.7,2568.2 L 618.7,2543.2"/>
<path class="ln" d="M 599.3,2576.1 L 603.6,2581.8 L 608.6,2581.8 L 612.9,2578.2 L 618.7,2574.7"/>
<path class="ln" d="M 618.7,2574.7 C 618.9,2577.8 619.4,2586.8 620.1,2593.3 C 620.8,2599.7 621.8,2607.6 623.0,2613.3 C 624.1,2619.0 625.6,2623.8 627.2,2627.6 C 628.9,2631.4 630.8,2634.0 633.0,2636.2 C 635.1,2638.3 637.3,2639.8 640.1,2640.5 C 643.0,2641.2 647.0,2641.0 650.1,2640.5 C 653.2,2640.0 656.3,2638.2 658.7,2637.6 C 661.1,2637.0 662.8,2636.2 664.5,2636.9 C 666.1,2637.6 668.2,2636.8 668.7,2641.9 C 669.3,2647.0 669.0,2662.7 668.0,2667.7 C 667.1,2672.7 664.0,2667.0 663.0,2672.0 C 662.1,2677.0 662.4,2693.4 662.3,2697.7"/>
<path class="ln" d="M 612.9,2578.2 C 613.4,2581.7 614.6,2591.9 615.8,2599.0 C 617.0,2606.0 618.5,2614.5 620.1,2620.4 C 621.6,2626.4 623.4,2631.7 625.1,2634.8 C 626.8,2637.9 629.3,2638.3 630.1,2639.1"/>
<path class="ln" d="M 657.3,2639.1 C 657.3,2643.3 658.1,2659.6 657.3,2664.8 C 656.5,2670.1 653.4,2666.2 652.3,2670.5 C 651.2,2674.8 650.3,2686.5 650.9,2690.6 C 651.5,2694.6 653.8,2693.7 655.9,2694.9 C 657.9,2696.1 660.6,2697.5 663.0,2697.7 C 665.4,2698.0 667.8,2697.5 670.2,2696.3 C 672.6,2695.1 675.7,2694.9 677.3,2690.6 C 679.0,2686.3 679.6,2678.2 680.2,2670.5 C 680.8,2662.9 680.2,2651.0 680.9,2644.8 C 681.6,2638.6 683.2,2636.0 684.5,2633.3 C 685.8,2630.7 688.1,2629.7 688.8,2629.0"/>
<path class="ln" d="M 597.2,2541.7 L 597.2,2573.2"/>
<path class="ln" d="M 776.2,2482.0 C 779.4,2485.4 788.5,2497.0 795.0,2502.5 C 801.5,2508.0 807.5,2510.8 815.0,2515.0 C 822.5,2519.2 831.7,2523.3 840.0,2527.5 C 848.3,2531.7 856.7,2535.4 865.0,2540.0 C 873.3,2544.6 883.3,2551.5 890.0,2555.0 C 896.7,2558.5 897.5,2559.6 905.0,2561.2 C 912.5,2562.9 927.1,2565.6 935.0,2565.0 C 942.9,2564.4 947.1,2560.0 952.5,2557.5 C 957.9,2555.0 963.8,2551.7 967.5,2550.0 C 971.2,2548.3 971.7,2548.8 975.0,2547.5 C 978.3,2546.2 984.2,2545.4 987.5,2542.5 C 990.8,2539.6 993.5,2533.8 995.0,2530.0 C 996.5,2526.2 996.0,2521.7 996.2,2520.0"/>
<path class="ln" d="M 777.5,2482.0 C 780.0,2484.2 787.5,2490.3 792.5,2495.0 C 797.5,2499.7 805.0,2507.5 807.5,2510.0"/>
<path class="ln" d="M 876.2,2482.0 C 876.9,2485.8 877.7,2496.2 880.0,2505.0 C 882.3,2513.8 887.1,2526.7 890.0,2535.0 C 892.9,2543.3 896.2,2551.7 897.5,2555.0"/>
<path class="ln" d="M 895.0,2482.0 C 896.2,2487.9 899.2,2506.2 902.5,2517.5 C 905.8,2528.8 911.2,2542.9 915.0,2550.0 C 918.8,2557.1 923.3,2558.3 925.0,2560.0"/>
<path class="ln" d="M 920.0,2482.0 C 920.8,2483.8 922.9,2486.6 925.0,2492.5 C 927.1,2498.4 930.8,2509.2 932.5,2517.5 C 934.2,2525.8 934.8,2534.6 935.0,2542.5 C 935.2,2550.4 934.0,2561.2 933.8,2565.0"/>
<path class="ln" d="M 793.8,2505.0 L 796.2,2527.5"/>
<path class="ln" d="M 788.8,2552.5 C 788.5,2549.2 787.3,2536.8 787.5,2532.5 C 787.7,2528.2 788.5,2528.2 790.0,2527.0 C 791.5,2525.8 794.2,2525.0 796.2,2525.0 C 798.3,2525.0 801.0,2525.8 802.5,2527.0 C 804.0,2528.2 804.4,2528.2 805.0,2532.5 C 805.6,2536.8 806.0,2549.2 806.2,2552.5"/>
<path class="ln" d="M 788.0,2535.0 C 789.5,2535.5 794.1,2538.0 797.0,2538.0 C 799.9,2538.0 804.1,2535.5 805.5,2535.0"/>
<path class="ln" d="M 788.0,2540.5 C 789.5,2541.0 794.1,2543.5 797.0,2543.5 C 799.9,2543.5 804.1,2541.0 805.5,2540.5"/>
<path class="ln" d="M 788.0,2546.0 C 789.5,2546.5 794.1,2549.0 797.0,2549.0 C 799.9,2549.0 804.1,2546.5 805.5,2546.0"/>
<path class="ln" d="M 783.8,2556.2 L 787.5,2552.5 L 811.2,2551.2 L 815.0,2557.5 L 812.5,2565.0 L 795.0,2571.2 L 785.0,2565.5 L 783.8,2556.2"/>
<path class="ln" d="M 787.5,2558.0 L 815.0,2557.5"/>
<path class="ln" d="M 795.0,2558.0 L 795.0,2571.2"/>
<path class="ln" d="M 796.2,2571.2 C 796.5,2575.2 796.9,2589.4 798.0,2595.0 C 799.1,2600.6 800.6,2602.5 803.0,2605.0 C 805.4,2607.5 799.9,2605.0 812.5,2610.0 C 825.1,2615.0 867.7,2630.8 878.8,2635.0"/>
<path class="ln" d="M 803.8,2571.2 C 804.2,2575.2 805.1,2590.0 806.2,2595.0 C 807.4,2600.0 808.5,2599.6 810.5,2601.2 C 812.5,2602.9 806.3,2600.2 818.0,2605.0 C 829.7,2609.8 870.1,2625.8 880.5,2630.0"/>
<path class="ln" d="M 878.8,2635.0 L 886.2,2630.0 L 920.0,2650.0 L 913.8,2660.0 L 880.0,2641.2 L 878.8,2635.0"/>
<path class="ln" d="M 910.0,2653.8 L 915.0,2648.8"/>
<path class="ln" d="M 915.0,2654.5 L 940.0,2665.2"/>
<path class="ln" d="M 913.8,2662.0 L 940.0,2675.5"/>
<path class="ln" d="M 745.0,2650.0 C 745.8,2648.8 747.5,2645.2 750.0,2642.5 C 752.5,2639.8 756.2,2635.8 760.0,2633.8 C 763.8,2631.7 768.3,2630.6 772.5,2630.0 C 776.7,2629.4 781.2,2629.2 785.0,2630.0 C 788.8,2630.8 792.8,2632.5 795.0,2635.0 C 797.2,2637.5 797.8,2641.2 798.0,2645.0 C 798.2,2648.8 797.0,2653.5 796.2,2657.5 C 795.5,2661.5 794.2,2666.9 793.8,2668.8"/>
<path class="ln" d="M 749.5,2652.0 C 750.3,2650.8 752.2,2646.9 754.5,2644.5 C 756.8,2642.1 759.8,2639.2 763.0,2637.5 C 766.2,2635.8 770.1,2634.6 773.8,2634.0 C 777.4,2633.4 781.9,2633.3 785.0,2634.0 C 788.1,2634.7 790.8,2636.1 792.5,2638.0 C 794.2,2639.9 794.8,2642.2 795.0,2645.5 C 795.2,2648.8 794.2,2653.8 793.5,2657.5 C 792.8,2661.2 791.4,2665.8 791.0,2667.5"/>
<path class="ln" d="M 745.0,2650.0 C 744.6,2652.1 742.9,2657.5 742.5,2662.5 C 742.1,2667.5 741.9,2674.6 742.5,2680.0 C 743.1,2685.4 744.6,2691.5 746.2,2695.0 C 747.9,2698.5 749.8,2700.0 752.5,2701.2 C 755.2,2702.5 759.2,2703.1 762.5,2702.5 C 765.8,2701.9 769.6,2699.6 772.5,2697.5 C 775.4,2695.4 777.7,2692.1 780.0,2690.0 C 782.3,2687.9 785.2,2685.8 786.2,2685.0"/>
<path class="ln" d="M 746.2,2680.0 C 746.9,2682.1 748.3,2689.4 750.0,2692.5 C 751.7,2695.6 753.8,2697.7 756.2,2698.8 C 758.8,2699.8 762.1,2699.6 765.0,2698.8 C 767.9,2697.9 770.8,2696.0 773.8,2693.8 C 776.7,2691.5 781.0,2686.5 782.5,2685.0"/>
<ellipse class="ln" cx="828.8" cy="2700.0" rx="26.2" ry="36.2" transform="rotate(25 828.8 2700.0)"/>
<ellipse class="ln" cx="830.5" cy="2699.5" rx="23.0" ry="32.5" transform="rotate(25 830.5 2699.5)"/>
<path class="ln" d="M 662.5,2602.5 L 745.0,2651.2"/>
<path class="ln" d="M 766.2,2662.5 L 803.8,2685.5"/>
<path class="ln" d="M 818.0,2693.8 L 857.5,2716.2"/>
<path class="ln" d="M 513.7,2709.8 L 542.3,2741.5 L 578.8,2741.5 L 605.4,2772.4 L 632.9,2741.5 L 674.2,2741.5 L 702.2,2710.7"/>
<path class="ln" d="M 550.2,2700.0 L 550.2,2736.5"/>
<path class="ln" d="M 663.8,2701.4 L 663.8,2736.5"/>
<path class="ln" d="M 713.8,2759.8 L 742.4,2792.0 L 773.2,2792.0 L 800.5,2822.9 L 828.0,2792.0 L 858.3,2792.0 L 886.3,2759.8"/>
<path class="ln" d="M 758.7,2704.2 L 758.7,2782.8"/>
<path class="ln" d="M 835.0,2735.1 L 835.0,2782.8"/>
<path class="ln" d="M 1738.4,1653.7 C 1737.6,1654.2 1734.9,1655.3 1733.8,1656.4 C 1732.6,1657.5 1731.9,1658.5 1731.5,1660.3 C 1731.0,1662.0 1730.9,1665.5 1731.1,1667.1 C 1731.3,1668.8 1731.7,1669.3 1732.6,1670.2 C 1733.5,1671.1 1735.8,1672.1 1736.5,1672.5"/>
<path class="ln" d="M 1738.4,1653.7 L 1743.7,1653.7 L 1775.1,1672.5 L 1778.2,1672.5"/>
<path class="ln" d="M 1736.5,1672.5 L 1767.4,1690.1"/>
<path class="ln" d="M 1745.3,1657.2 C 1744.4,1657.8 1741.4,1659.4 1740.3,1661.0 C 1739.1,1662.7 1738.6,1665.2 1738.4,1667.1 C 1738.1,1669.1 1738.7,1671.9 1738.7,1672.9"/>
<path class="ln" d="M 1751.0,1661.0 C 1750.2,1661.8 1747.4,1663.8 1746.4,1665.6 C 1745.4,1667.4 1745.4,1669.9 1745.3,1671.7 C 1745.1,1673.6 1745.6,1675.9 1745.6,1676.7"/>
<path class="ln" d="M 1757.9,1665.2 C 1757.1,1666.1 1753.9,1668.5 1752.9,1670.2 C 1752.0,1671.9 1752.2,1673.8 1752.1,1675.6 C 1752.1,1677.3 1752.5,1680.0 1752.5,1680.9"/>
<path class="ln" d="M 1765.2,1669.4 C 1764.3,1670.3 1760.8,1672.9 1759.8,1674.8 C 1758.8,1676.7 1759.3,1679.1 1759.4,1680.9 C 1759.5,1682.7 1760.0,1684.7 1760.2,1685.5"/>
<path class="ln" d="M 1774.3,1674.8 C 1773.6,1675.9 1770.8,1679.6 1769.7,1681.7 C 1768.7,1683.7 1768.2,1685.6 1767.8,1687.0 C 1767.4,1688.4 1767.5,1689.6 1767.4,1690.1"/>
<path class="ln" d="M 1778.2,1672.5 C 1778.7,1671.9 1779.8,1669.4 1781.2,1668.7 C 1782.6,1668.0 1785.0,1668.3 1786.6,1668.3 C 1788.1,1668.3 1789.3,1668.1 1790.4,1668.7 C 1791.6,1669.2 1792.6,1670.7 1793.5,1671.7 C 1794.4,1672.8 1795.4,1674.3 1795.8,1674.8"/>
<path class="ln" d="M 1767.4,1690.1 C 1767.4,1691.4 1766.8,1695.7 1767.1,1697.8 C 1767.3,1699.8 1767.9,1701.2 1769.0,1702.3 C 1770.1,1703.5 1771.9,1704.3 1773.6,1704.6 C 1775.2,1705.0 1777.3,1704.3 1778.9,1704.6 C 1780.6,1705.0 1782.1,1706.6 1783.5,1706.9 C 1784.9,1707.3 1786.1,1707.2 1787.3,1706.9 C 1788.6,1706.7 1789.8,1706.4 1791.2,1705.4 C 1792.6,1704.4 1794.2,1702.5 1795.8,1700.8 C 1797.3,1699.2 1799.1,1697.2 1800.4,1695.5 C 1801.6,1693.7 1802.8,1692.0 1803.4,1690.1 C 1804.1,1688.2 1804.3,1685.6 1804.2,1684.0 C 1804.1,1682.3 1803.4,1681.3 1802.7,1680.1 C 1801.9,1679.0 1800.7,1678.0 1799.6,1677.1 C 1798.4,1676.2 1796.4,1675.2 1795.8,1674.8"/>
<path class="ln" d="M 1795.8,1677.1 C 1795.0,1677.2 1792.6,1677.2 1791.2,1677.9 C 1789.8,1678.5 1788.7,1679.6 1787.3,1680.9 C 1785.9,1682.2 1783.9,1684.0 1782.8,1685.5 C 1781.6,1687.0 1781.0,1688.3 1780.5,1690.1 C 1779.9,1691.9 1779.6,1694.2 1779.7,1696.2 C 1779.8,1698.3 1780.3,1700.7 1781.2,1702.3 C 1782.1,1704.0 1784.4,1705.5 1785.0,1706.2"/>
<path class="ln" d="M 1795.4,1690.1 C 1795.3,1689.5 1795.4,1687.0 1795.0,1686.3 C 1794.6,1685.5 1793.6,1685.4 1792.7,1685.5 C 1791.8,1685.6 1790.7,1686.3 1789.6,1687.0 C 1788.6,1687.8 1787.2,1688.8 1786.6,1690.1 C 1785.9,1691.4 1785.7,1693.4 1785.8,1694.7 C 1785.9,1696.0 1786.6,1697.2 1787.3,1697.8 C 1788.1,1698.3 1789.4,1698.0 1790.4,1697.8 C 1791.4,1697.5 1792.6,1696.5 1793.1,1696.2"/>
<path class="ln" d="M 1778.2,1694.7 L 1778.5,1704.6"/>
<path class="ln" d="M 1780.5,1610.5 L 1780.5,1664.5"/>
<path class="ln" d="M 2226.6,2092.6 C 2225.9,2092.8 2223.3,2092.9 2222.0,2093.8 C 2220.8,2094.6 2219.7,2096.1 2219.0,2097.6 C 2218.2,2099.1 2217.7,2101.2 2217.4,2103.0 C 2217.2,2104.7 2216.9,2107.0 2217.4,2108.3 C 2218.0,2109.6 2220.0,2110.2 2220.5,2110.6"/>
<path class="ln" d="M 2226.6,2092.6 L 2230.5,2093.8 L 2261.8,2110.6"/>
<path class="ln" d="M 2220.5,2110.6 L 2250.4,2127.4"/>
<path class="ln" d="M 2231.2,2096.1 C 2230.5,2096.6 2227.7,2097.7 2226.6,2099.1 C 2225.5,2100.5 2225.0,2102.4 2224.7,2104.5 C 2224.5,2106.6 2225.0,2110.5 2225.1,2111.8"/>
<path class="ln" d="M 2236.6,2099.1 C 2235.8,2099.8 2233.0,2101.3 2232.0,2103.0 C 2231.0,2104.6 2230.6,2107.0 2230.5,2109.1 C 2230.3,2111.1 2230.8,2114.2 2230.8,2115.2"/>
<path class="ln" d="M 2243.5,2103.0 C 2242.7,2103.6 2239.9,2105.3 2238.9,2106.8 C 2237.9,2108.3 2237.5,2110.1 2237.3,2112.1 C 2237.2,2114.2 2237.7,2117.9 2237.7,2119.0"/>
<path class="ln" d="M 2250.4,2106.8 C 2249.6,2107.4 2246.8,2109.0 2245.8,2110.6 C 2244.7,2112.3 2244.4,2114.7 2244.2,2116.7 C 2244.0,2118.8 2244.6,2121.8 2244.6,2122.9"/>
<path class="ln" d="M 2257.2,2110.6 C 2256.5,2111.2 2253.7,2112.8 2252.7,2114.4 C 2251.6,2116.1 2251.2,2118.4 2251.1,2120.6 C 2251.0,2122.7 2251.8,2126.3 2251.9,2127.4"/>
<path class="ln" d="M 2261.8,2110.6 C 2263.1,2110.5 2266.9,2109.9 2269.5,2109.8 C 2272.0,2109.8 2275.1,2109.5 2277.1,2110.2 C 2279.2,2111.0 2280.8,2112.6 2281.7,2114.4 C 2282.7,2116.3 2283.0,2119.2 2282.9,2121.3 C 2282.8,2123.5 2281.7,2125.4 2281.0,2127.4 C 2280.3,2129.5 2279.8,2131.7 2278.7,2133.6 C 2277.5,2135.5 2275.7,2137.4 2274.1,2138.9 C 2272.4,2140.5 2270.6,2141.9 2268.7,2142.8 C 2266.8,2143.6 2264.4,2144.4 2262.6,2144.3 C 2260.8,2144.2 2259.0,2143.5 2258.0,2142.0 C 2257.0,2140.5 2257.1,2137.3 2256.5,2135.1 C 2255.8,2132.9 2255.2,2130.3 2254.2,2129.0 C 2253.2,2127.7 2251.0,2127.7 2250.4,2127.4"/>
<path class="ln" d="M 2262.6,2113.7 C 2261.8,2114.8 2259.2,2118.5 2258.0,2120.6 C 2256.9,2122.6 2256.0,2123.7 2255.7,2125.9 C 2255.5,2128.1 2256.1,2131.1 2256.5,2133.6 C 2256.9,2136.0 2257.8,2139.3 2258.0,2140.5"/>
<path class="ln" d="M 2274.1,2123.6 C 2273.9,2123.3 2273.7,2122.1 2272.9,2121.7 C 2272.2,2121.3 2270.7,2120.9 2269.5,2121.3 C 2268.3,2121.8 2266.6,2123.2 2265.7,2124.4 C 2264.8,2125.5 2264.3,2126.8 2264.1,2128.2 C 2264.0,2129.6 2264.3,2131.8 2264.9,2132.8 C 2265.5,2133.8 2267.1,2134.1 2268.0,2134.0 C 2268.8,2133.8 2269.9,2132.4 2270.3,2132.0"/>
<path class="ln" d="M 2239.5,2126.7 L 2239.5,2181.0"/>
<path class="ln" d="M 1332.1,2867.2 L 1381.6,2780.9 L 1396.3,2788.1 L 1397.7,2794.8"/>
<path class="ln" d="M 1397.7,2794.8 C 1398.1,2796.2 1398.6,2800.4 1400.4,2802.9 C 1402.2,2805.3 1405.7,2807.8 1408.4,2809.6 C 1411.1,2811.3 1415.1,2812.9 1416.4,2813.6"/>
<path class="ln" d="M 1332.1,2867.2 C 1333.6,2868.3 1339.0,2872.6 1341.4,2873.8 C 1343.9,2875.1 1344.6,2874.9 1346.8,2874.7 C 1349.0,2874.4 1351.7,2872.6 1354.8,2872.5 C 1357.9,2872.4 1362.0,2873.2 1365.5,2873.8 C 1369.1,2874.5 1373.1,2875.4 1376.3,2876.5 C 1379.4,2877.6 1383.0,2879.9 1384.3,2880.5"/>
<path class="ln" d="M 1416.4,2813.6 L 1692.4,2971.6"/>
<path class="ln" d="M 1384.3,2880.5 L 1652.2,3035.9"/>
<path class="ln" d="M 1350.8,2867.2 L 1388.3,2801.5"/>
<path class="ln" d="M 1391.0,2812.2 C 1391.6,2814.2 1394.2,2819.6 1394.5,2824.3 C 1394.7,2829.0 1394.0,2835.9 1392.3,2840.4 C 1390.6,2844.8 1388.1,2847.5 1384.3,2851.1 C 1380.5,2854.7 1372.0,2860.0 1369.6,2861.8"/>
<ellipse class="ln" cx="1419.1" cy="2861.8" rx="26.8" ry="19.3" transform="rotate(22 1419.1 2861.8)"/>
<ellipse class="ln" cx="1470.8" cy="2890.5" rx="18.8" ry="18.8" transform="rotate(0 1470.8 2890.5)"/>
<path class="ln" d="M 1459.3,2885.4 L 1464.7,2899.3 L 1471.4,2888.6 L 1476.7,2898.0 L 1483.4,2883.8"/>
<path class="ln" d="M 1463.3,2888.6 L 1466.8,2895.3 L 1475.4,2881.9"/>
<path class="ln" d="M 1652.2,3035.9 C 1652.0,3032.8 1650.5,3023.9 1651.4,3017.2 C 1652.3,3010.5 1654.3,3002.0 1657.5,2995.7 C 1660.8,2989.5 1666.0,2983.5 1670.9,2979.7 C 1675.8,2975.9 1682.5,2973.9 1687.0,2973.0 C 1691.5,2972.1 1694.8,2972.3 1697.7,2974.3 C 1700.6,2976.3 1703.2,2981.0 1704.4,2985.0 C 1705.7,2989.0 1705.1,2996.2 1705.2,2998.4"/>
<path class="ln" d="M 1652.2,3035.9 C 1653.5,3036.7 1656.6,3040.1 1660.2,3040.7 C 1663.8,3041.4 1671.4,3040.1 1673.6,3039.9"/>
<path class="ln" d="M 1684.3,2995.7 C 1682.8,2997.5 1677.0,3002.0 1674.9,3006.5 C 1672.9,3010.9 1671.8,3018.5 1672.3,3022.5 C 1672.7,3026.5 1676.7,3029.2 1677.6,3030.6"/>
<path class="ln" d="M 1684.3,2995.7 C 1686.1,2995.3 1691.2,2992.2 1695.0,2993.1 C 1698.8,2993.9 1703.1,2998.0 1707.1,3001.1 C 1711.1,3004.2 1717.1,3010.0 1719.1,3011.8"/>
<path class="ln" d="M 1677.6,3030.6 L 1705.7,3041.3"/>
<ellipse class="ln" cx="1713.8" cy="3026.5" rx="10.7" ry="15.3" transform="rotate(25 1713.8 3026.5)"/>
<path class="ln" d="M 1677.6,3014.5 L 1701.7,3029.2"/>
<path class="ln" d="M 1680.3,3006.5 L 1705.7,3021.2"/>
<path class="ln" d="M 1684.3,2999.8 L 1709.8,3014.5"/>
<path class="ln" d="M 1677.6,3023.9 L 1701.7,3037.3"/>
<path class="ln" d="M 1525.7,2970.3 L 1525.7,3029.2"/>
<path class="ln" d="M 2086.0,2022.5 L 2217.0,2099.5"/>
<text class="lbl" x="284.5" y="1036.0" text-anchor="middle" style="font-size:56px">8</text>
<text class="lbl" x="1502.0" y="1092.0" text-anchor="middle" style="font-size:54px">11</text>
<text class="lbl" x="1782.0" y="1599.0" text-anchor="middle" style="font-size:54px">12</text>
<text class="lbl" x="2242.0" y="2230.0" text-anchor="middle" style="font-size:54px">10</text>
<text class="lbl" x="1901.0" y="2388.0" text-anchor="middle" style="font-size:54px">9</text>
<rect x="1865.0" y="2327.0" width="73.0" height="87.0" fill="rgba(255,0,0,0.5)"/>
<text class="lbl" x="1160.0" y="2119.5" text-anchor="middle" style="font-size:54px">7</text>
<text class="lbl" x="1158.0" y="2196.0" text-anchor="middle" style="font-size:54px">6</text>
<text class="lbl" x="1155.0" y="2292.6" text-anchor="middle" style="font-size:54px">2</text>
<text class="lbl" x="1239.0" y="2393.0" text-anchor="middle" style="font-size:54px">1</text>
<text class="lbl" x="1154.0" y="2476.5" text-anchor="middle" style="font-size:54px">3</text>
<text class="lbl" x="1152.0" y="2562.0" text-anchor="middle" style="font-size:54px">4</text>
<text class="lbl" x="1155.0" y="2670.4" text-anchor="middle" style="font-size:54px">5</text>
<text class="lbl" x="605.6" y="2823.5" text-anchor="middle" style="font-size:54px">13</text>
<text class="lbl" x="800.3" y="2871.2" text-anchor="middle" style="font-size:54px">2</text>
<text class="lbl" x="631.0" y="2022.5" text-anchor="middle" style="font-size:54px">3</text>
<text class="lbl" x="471.0" y="2074.5" text-anchor="middle" style="font-size:60px;font-family:'Liberation Serif',serif">14</text>
<text class="lbl" x="423.0" y="2235.5" text-anchor="middle" style="font-size:60px;font-family:'Liberation Serif',serif">4</text>
<text class="lbl" x="1527.0" y="3076.0" text-anchor="middle" style="font-size:54px">15</text>
</svg>
</body></html>
